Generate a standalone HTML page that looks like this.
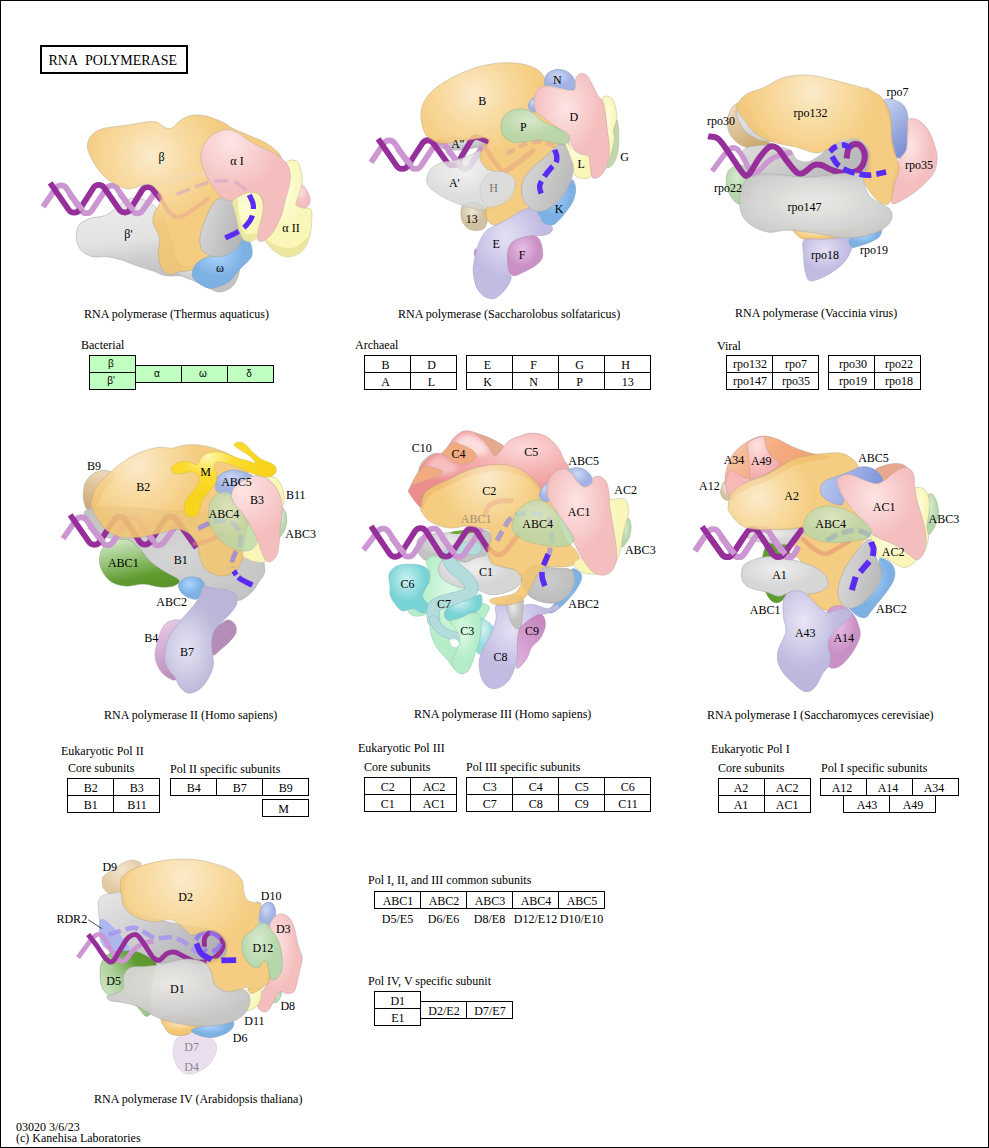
<!DOCTYPE html>
<html><head><meta charset="utf-8"><title>RNA polymerase</title>
<style>
html,body{margin:0;padding:0;background:#fff;}
svg{display:block;}
text{font-family:"Liberation Serif",serif;font-size:12px;fill:#000;}
.title{font-size:14px;}
.bt{font-size:12px;}
.bs{font-family:"Liberation Sans",sans-serif;font-size:10px;}
.l{font-size:12px;}
</style></head>
<body>
<svg width="989" height="1148" viewBox="0 0 989 1148">
<defs>
<radialGradient id="g_orange" cx="0.42" cy="0.32" r="0.6"><stop offset="0" stop-color="#fbe8c4"/><stop offset="0.75" stop-color="#f4c670"/><stop offset="1" stop-color="#f4c670"/></radialGradient>
<radialGradient id="g_pink" cx="0.42" cy="0.32" r="0.6"><stop offset="0" stop-color="#fee4e4"/><stop offset="0.75" stop-color="#f4bebe"/><stop offset="1" stop-color="#f4bebe"/></radialGradient>
<radialGradient id="g_yellow" cx="0.42" cy="0.32" r="0.6"><stop offset="0" stop-color="#fefdd8"/><stop offset="0.75" stop-color="#f9f6b8"/><stop offset="1" stop-color="#f9f6b8"/></radialGradient>
<radialGradient id="g_grey" cx="0.42" cy="0.32" r="0.6"><stop offset="0" stop-color="#ebebeb"/><stop offset="0.75" stop-color="#c2c2c2"/><stop offset="1" stop-color="#c2c2c2"/></radialGradient>
<radialGradient id="g_lgrey" cx="0.42" cy="0.32" r="0.6"><stop offset="0" stop-color="#efefef"/><stop offset="0.75" stop-color="#d6d6d6"/><stop offset="1" stop-color="#d6d6d6"/></radialGradient>
<radialGradient id="g_blue" cx="0.42" cy="0.32" r="0.6"><stop offset="0" stop-color="#aad4ff"/><stop offset="0.75" stop-color="#7db1e4"/><stop offset="1" stop-color="#7db1e4"/></radialGradient>
<radialGradient id="g_nblue" cx="0.42" cy="0.32" r="0.6"><stop offset="0" stop-color="#cbd7f4"/><stop offset="0.75" stop-color="#a2b3e3"/><stop offset="1" stop-color="#a2b3e3"/></radialGradient>
<radialGradient id="g_green" cx="0.42" cy="0.32" r="0.6"><stop offset="0" stop-color="#d6ead0"/><stop offset="0.75" stop-color="#b6d7ab"/><stop offset="1" stop-color="#b6d7ab"/></radialGradient>
<radialGradient id="g_dgreen" cx="0.42" cy="0.32" r="0.6"><stop offset="0" stop-color="#8fbf6a"/><stop offset="0.75" stop-color="#5f9a33"/><stop offset="1" stop-color="#5f9a33"/></radialGradient>
<radialGradient id="g_lav" cx="0.42" cy="0.32" r="0.6"><stop offset="0" stop-color="#e4e1f5"/><stop offset="0.75" stop-color="#c2bce2"/><stop offset="1" stop-color="#c2bce2"/></radialGradient>
<radialGradient id="g_mag" cx="0.42" cy="0.32" r="0.6"><stop offset="0" stop-color="#e8bee4"/><stop offset="0.75" stop-color="#ca90c6"/><stop offset="1" stop-color="#ca90c6"/></radialGradient>
<radialGradient id="g_tan" cx="0.42" cy="0.32" r="0.6"><stop offset="0" stop-color="#f0e8d6"/><stop offset="0.75" stop-color="#d0c2a2"/><stop offset="1" stop-color="#d0c2a2"/></radialGradient>
<radialGradient id="g_gold" cx="0.42" cy="0.32" r="0.6"><stop offset="0" stop-color="#ffe44d"/><stop offset="0.75" stop-color="#f7d21a"/><stop offset="1" stop-color="#f7d21a"/></radialGradient>
<radialGradient id="g_teal" cx="0.42" cy="0.32" r="0.6"><stop offset="0" stop-color="#caf1f1"/><stop offset="0.75" stop-color="#78d3d5"/><stop offset="1" stop-color="#78d3d5"/></radialGradient>
<radialGradient id="g_mint" cx="0.42" cy="0.32" r="0.6"><stop offset="0" stop-color="#dcfbe6"/><stop offset="0.75" stop-color="#b5edc8"/><stop offset="1" stop-color="#b5edc8"/></radialGradient>
<radialGradient id="g_salmon" cx="0.42" cy="0.32" r="0.6"><stop offset="0" stop-color="#f8c8a8"/><stop offset="0.75" stop-color="#f0a880"/><stop offset="1" stop-color="#f0a880"/></radialGradient>
<radialGradient id="g_peach" cx="0.42" cy="0.32" r="0.6"><stop offset="0" stop-color="#f8d0b0"/><stop offset="0.75" stop-color="#f0b088"/><stop offset="1" stop-color="#f0b088"/></radialGradient>
<radialGradient id="g_red" cx="0.42" cy="0.32" r="0.6"><stop offset="0" stop-color="#f8c0c0"/><stop offset="0.75" stop-color="#f0a0a0"/><stop offset="1" stop-color="#f0a0a0"/></radialGradient>

<linearGradient id="f2gc" x1="0" y1="0.3" x2="1" y2="0.7"><stop offset="0" stop-color="#d8d8d8"/><stop offset="1" stop-color="#b8b8b8"/></linearGradient>
<linearGradient id="f3tan" x1="0.2" y1="0" x2="0.7" y2="1"><stop offset="0" stop-color="#f0dcc0"/><stop offset="1" stop-color="#c8a468"/></linearGradient>
<linearGradient id="f3band" x1="0" y1="0" x2="1" y2="0.3"><stop offset="0" stop-color="#dedede"/><stop offset="0.6" stop-color="#c6c6c6"/><stop offset="1" stop-color="#b8b8b8"/></linearGradient>
<linearGradient id="f3b7" x1="0.2" y1="0" x2="0.6" y2="1"><stop offset="0" stop-color="#c2d0ee"/><stop offset="1" stop-color="#7b8ed2"/></linearGradient>
<radialGradient id="f3g147" cx="0.5" cy="0.45" r="0.6"><stop offset="0" stop-color="#e9e9e6"/><stop offset="1" stop-color="#c6c6c4"/></radialGradient>
<linearGradient id="f4tan" x1="0.5" y1="0" x2="0.2" y2="1"><stop offset="0" stop-color="#ecd8b8"/><stop offset="1" stop-color="#c9a878"/></linearGradient>
<radialGradient id="f4g" cx="0.5" cy="0.5" r="0.6"><stop offset="0" stop-color="#d6d6d6"/><stop offset="1" stop-color="#c3c3c3"/></radialGradient>
<linearGradient id="f4gr" x1="0.25" y1="0" x2="0.6" y2="1"><stop offset="0" stop-color="#d0e6c4"/><stop offset="0.45" stop-color="#8fbf70"/><stop offset="0.8" stop-color="#5e9a2e"/><stop offset="1" stop-color="#5a962a"/></linearGradient>
<linearGradient id="f4b4" x1="0.3" y1="0" x2="0.5" y2="1"><stop offset="0" stop-color="#e8cce8"/><stop offset="1" stop-color="#bb8cbc"/></linearGradient>
<radialGradient id="f4b7" cx="0.3" cy="0.58" r="0.6"><stop offset="0" stop-color="#e6e4f4"/><stop offset="0.7" stop-color="#bdb9da"/><stop offset="1" stop-color="#bab6d8"/></radialGradient>
<radialGradient id="f4m" cx="0.35" cy="0.2" r="0.5"><stop offset="0" stop-color="#fff6b0"/><stop offset="0.5" stop-color="#fbdc30"/><stop offset="1" stop-color="#f8d41c"/></radialGradient>
<radialGradient id="f5red" cx="0.72" cy="0.22" r="0.7"><stop offset="0" stop-color="#fcd8d8"/><stop offset="0.45" stop-color="#f4b0b0"/><stop offset="1" stop-color="#ec8c8c"/></radialGradient>
<filter id="blur25" x="-30%" y="-30%" width="160%" height="160%"><feGaussianBlur stdDeviation="2.5"/></filter>
<radialGradient id="f5gc" cx="0.5" cy="0.4" r="0.7"><stop offset="0" stop-color="#cccccc"/><stop offset="1" stop-color="#b8b8b8"/></radialGradient>
<linearGradient id="f5c9" x1="0.8" y1="0" x2="0.2" y2="1"><stop offset="0" stop-color="#c485c0"/><stop offset="1" stop-color="#deb0da"/></linearGradient>
<linearGradient id="f6sal" x1="0" y1="0" x2="1" y2="0.4"><stop offset="0" stop-color="#f8cdb0"/><stop offset="0.5" stop-color="#f4aa80"/><stop offset="1" stop-color="#f0a070"/></linearGradient>
<radialGradient id="f6p49" cx="0.3" cy="0.2" r="0.8"><stop offset="0" stop-color="#fde0e0"/><stop offset="1" stop-color="#f4a8a8"/></radialGradient>
<clipPath id="f6clip"><rect x="690" y="535.2" width="110.2" height="60"/></clipPath>
<radialGradient id="f6a43" cx="0.35" cy="0.3" r="0.65"><stop offset="0" stop-color="#e8e6f6"/><stop offset="0.7" stop-color="#c0bbe0"/><stop offset="1" stop-color="#bcb6dc"/></radialGradient>
<linearGradient id="f6gc" x1="0" y1="0.3" x2="1" y2="0.7"><stop offset="0" stop-color="#dcdcdc"/><stop offset="1" stop-color="#b6b6b6"/></linearGradient>
<linearGradient id="f6b5" x1="0" y1="0.3" x2="1" y2="0.5"><stop offset="0" stop-color="#b8c8f0"/><stop offset="1" stop-color="#7f94d8"/></linearGradient>
<radialGradient id="f7tan" cx="0.5" cy="0.3" r="0.7"><stop offset="0" stop-color="#f4e4cc"/><stop offset="1" stop-color="#e0c49c"/></radialGradient>
<linearGradient id="f7gb" x1="0" y1="0" x2="1" y2="0.6"><stop offset="0" stop-color="#e8e8e8"/><stop offset="0.5" stop-color="#cdcdd0"/><stop offset="1" stop-color="#b2b2b6"/></linearGradient>
<linearGradient id="f7gr" x1="0.1" y1="0.7" x2="0.9" y2="0.1"><stop offset="0" stop-color="#cfe4c4"/><stop offset="0.35" stop-color="#a9cf96"/><stop offset="0.75" stop-color="#5f9c30"/><stop offset="1" stop-color="#5a962a"/></linearGradient>
<radialGradient id="f7d1" cx="0.45" cy="0.35" r="0.6"><stop offset="0" stop-color="#eae8e4"/><stop offset="1" stop-color="#c4c4c4"/></radialGradient>

</defs>
<rect x="0" y="0" width="989" height="1148" fill="#fff"/>
<linearGradient id="f1bp" x1="0.3" y1="0" x2="0.5" y2="1"><stop offset="0" stop-color="#ececec"/><stop offset="0.55" stop-color="#e2e2e2"/><stop offset="0.8" stop-color="#cdcdcd"/><stop offset="1" stop-color="#c4c4c4"/></linearGradient>
<path d="M76.4,234.5C76.8,231.6 77.1,227.1 79.4,224.4C81.8,221.7 86.3,219.8 90.6,218.3C94.8,216.9 100.7,217.2 104.7,215.7C108.8,214.2 111.5,211.6 114.8,209.2C118.2,206.8 121.6,203.0 124.9,201.1C128.3,199.3 131.3,198.1 135.0,198.1C138.8,198.1 143.5,199.3 147.2,201.1C150.9,203.0 154.3,205.8 157.3,209.2C160.3,212.6 163.0,215.9 165.4,221.3C167.7,226.7 169.4,234.8 171.4,241.6C173.5,248.3 173.8,257.1 177.5,261.8C181.2,266.5 190.7,267.8 193.7,269.9C196.7,272.0 197.7,273.4 195.7,274.3C193.7,275.3 186.6,275.3 181.6,275.5C176.5,275.7 170.1,276.3 165.4,275.5C160.7,274.8 158.0,272.5 153.2,270.9C148.5,269.3 142.5,267.7 137.1,265.8C131.7,264.0 125.9,261.3 120.9,259.8C115.8,258.2 111.5,257.2 106.7,256.7C102.0,256.2 96.8,257.7 92.6,256.7C88.4,255.7 84.1,253.2 81.5,250.7C78.8,248.1 77.6,244.3 76.8,241.6C76.0,238.9 76.0,237.3 76.4,234.5Z" fill="url(#f1bp)" stroke="#aaa" stroke-width="0.6"/>
<path d="M170.5,267.2C172.9,265.8 185.3,266.4 192.2,265.5C199.2,264.6 205.4,263.5 212.3,262.0C219.1,260.6 228.7,255.9 233.2,256.8C237.7,257.7 238.5,263.8 239.3,267.2C240.0,270.7 238.8,274.4 237.5,277.7C236.2,281.0 234.3,284.9 231.4,287.3C228.5,289.7 223.6,291.7 220.1,292.0C216.6,292.3 214.7,290.8 210.5,289.0C206.3,287.2 200.4,283.7 194.8,281.2C189.3,278.7 181.5,276.5 177.4,274.2C173.4,271.9 168.0,268.7 170.5,267.2Z" fill="url(#g_grey)" stroke="#a8a8a8" stroke-width="0.6" />
<path d="M43.03,206.77 L55.76,188.26 A6.50,6.50 0 0 1 66.53,188.35 L81.09,210.29 A6.50,6.50 0 0 0 91.93,210.29 L106.37,188.50 A6.50,6.50 0 0 1 117.21,188.49 L131.81,210.51 A6.50,6.50 0 0 0 142.55,210.64 L156.28,191.00" fill="none" stroke="#cb96d1" stroke-width="5.8" stroke-linejoin="round"/><path d="M50.11,182.91 L68.78,209.82 A6.50,6.50 0 0 0 79.61,209.59 L93.32,187.99 A6.50,6.50 0 0 1 104.15,187.77 L119.35,209.70 A6.50,6.50 0 0 0 130.22,209.42 L142.15,190.14 A6.50,6.50 0 0 1 152.73,189.47 L161.33,200.10" fill="none" stroke="#962f9a" stroke-width="5.8" stroke-linejoin="round"/><path d="M69.32,193.82 L82.72,210.22" stroke="#cb96d1" stroke-width="5.8" fill="none"/><path d="M119.88,193.82 L133.28,210.22" stroke="#cb96d1" stroke-width="5.8" fill="none"/>
<radialGradient id="ug_orange_153_156" gradientUnits="userSpaceOnUse" cx="153" cy="156" r="70"><stop offset="0" stop-color="#fbe8c4"/><stop offset="0.5" stop-color="#f8d694"/><stop offset="1" stop-color="#f4c670"/></radialGradient><path d="M87.5,147.5C87.2,143.5 88.4,139.4 90.6,136.4C92.7,133.4 96.6,130.9 100.7,129.3C104.7,127.7 109.8,127.5 114.8,126.7C119.9,125.9 125.6,125.5 131.0,124.7C136.4,123.9 142.8,122.2 147.2,121.8C151.6,121.4 154.4,121.3 157.3,122.2C160.2,123.2 162.0,126.3 164.4,127.3C166.7,128.3 168.9,129.3 171.4,128.3C174.0,127.3 176.5,123.3 179.5,121.2C182.6,119.1 185.9,116.8 189.6,115.8C193.4,114.8 197.7,114.7 201.8,115.2C205.8,115.6 209.9,117.2 213.9,118.6C218.0,120.1 222.8,122.2 226.0,123.9C229.3,125.6 229.1,126.7 233.2,128.7C237.3,130.8 245.4,133.8 250.6,136.1C255.8,138.3 260.5,140.1 264.5,142.3C268.6,144.6 272.2,147.0 275.0,149.7C277.8,152.3 280.3,153.6 281.4,158.4C282.6,163.2 284.8,170.7 282.0,178.4C279.1,186.1 270.9,194.4 264.5,204.5C258.1,214.7 249.4,230.7 243.6,239.4C237.8,248.1 236.4,252.1 229.7,256.8C223.0,261.4 211.4,264.8 203.6,267.2C195.7,269.7 186.3,271.0 182.6,271.6C179.0,272.2 183.8,270.4 181.6,270.9C179.4,271.3 172.8,274.8 169.4,274.3C166.1,273.8 163.2,271.3 161.3,267.8C159.5,264.4 158.6,258.7 158.3,253.7C158.0,248.6 160.2,242.6 159.3,237.5C158.5,232.5 154.1,227.4 153.2,223.4C152.4,219.3 152.9,217.3 154.3,213.2C155.6,209.2 161.0,203.1 161.3,199.1C161.7,195.0 158.3,191.4 156.3,189.0C154.3,186.6 151.7,185.1 149.2,184.5C146.7,183.9 144.5,184.6 141.1,185.3C137.7,186.1 133.4,189.2 129.0,189.0C124.6,188.7 119.2,186.3 114.8,183.9C110.4,181.6 106.4,178.7 102.7,174.8C99.0,170.9 95.1,165.2 92.6,160.7C90.1,156.1 87.9,151.6 87.5,147.5Z" fill="url(#ug_orange_153_156)" stroke="#b8a680" stroke-width="0.6" opacity="0.87" />
<path d="M159.3,195.0C161.0,197.9 165.7,208.7 169.4,212.2C173.1,215.8 175.2,218.5 181.6,216.3C188.0,214.1 203.5,202.0 207.8,199.1" fill="none" stroke="#e8a890" stroke-width="4.5" stroke-linecap="round" stroke-linejoin="round" opacity="0.55"/>
<path d="M159.3,183.9C163.0,182.8 174.5,178.9 181.6,177.2C188.6,175.6 196.0,173.4 201.8,173.8C207.5,174.3 213.6,178.9 215.9,179.9" fill="none" stroke="#f3d9b0" stroke-width="5" stroke-linecap="round" stroke-linejoin="round" opacity="0.7"/>
<path d="M192.2,274.2C192.5,272.2 193.0,268.1 194.8,265.5C196.7,262.9 199.8,260.3 203.6,258.5C207.3,256.8 213.1,256.8 217.5,255.1C221.8,253.3 226.2,250.7 229.7,248.1C233.2,245.5 235.5,240.8 238.4,239.4C241.3,237.9 244.9,238.2 247.1,239.4C249.3,240.5 250.7,243.4 251.5,246.3C252.2,249.2 252.8,253.6 251.5,256.8C250.2,260.0 246.1,262.9 243.6,265.5C241.2,268.1 239.0,269.9 236.7,272.5C234.3,275.1 232.6,278.9 229.7,281.2C226.8,283.5 222.7,285.2 219.2,286.4C215.7,287.6 212.3,288.7 208.8,288.2C205.3,287.6 200.9,284.7 198.3,282.9C195.7,281.2 194.1,279.2 193.1,277.7C192.1,276.2 191.9,276.2 192.2,274.2Z" fill="url(#g_blue)" stroke="#7fa3c8" stroke-width="0.6" />
<linearGradient id="f1gc" x1="0" y1="0.2" x2="1" y2="0.6"><stop offset="0" stop-color="#dadada"/><stop offset="1" stop-color="#b4b4b4"/></linearGradient>
<path d="M217.5,199.3C220.1,197.6 223.6,197.3 226.2,197.6C228.8,197.9 231.4,198.4 233.2,201.0C234.9,203.7 235.5,208.6 236.7,213.2C237.8,217.9 239.3,224.6 240.1,228.9C241.0,233.3 242.5,236.2 241.9,239.4C241.3,242.6 239.3,245.5 236.7,248.1C234.0,250.7 229.7,253.6 226.2,255.1C222.7,256.5 219.2,257.1 215.7,256.8C212.3,256.5 207.9,255.3 205.3,253.3C202.7,251.3 200.8,248.1 200.1,244.6C199.3,241.1 200.1,236.5 200.9,232.4C201.8,228.3 203.7,224.3 205.3,220.2C206.9,216.1 208.5,211.5 210.5,208.0C212.6,204.5 214.9,201.0 217.5,199.3Z" fill="url(#f1gc)" stroke="#a4a4a4" stroke-width="0.6"/>
<path d="M297.6,183.6C299.7,181.9 302.6,184.8 304.6,187.1C306.6,189.4 309.1,194.7 309.8,197.6C310.6,200.5 310.1,202.6 309.0,204.5C307.8,206.4 305.0,208.6 302.9,208.9C300.7,209.2 297.6,208.2 295.9,206.3C294.1,204.4 292.1,201.3 292.4,197.6C292.7,193.8 295.6,185.4 297.6,183.6Z" fill="url(#g_pink)" stroke="#c9a8a8" stroke-width="0.6" />
<path d="M286.3,162.7C287.8,160.5 290.4,160.1 292.4,160.1C294.4,160.1 297.0,160.5 298.5,162.7C300.0,164.9 300.9,169.7 301.5,173.2C302.0,176.7 302.5,179.8 302.0,183.6C301.5,187.4 299.5,192.3 298.5,195.8C297.5,199.3 295.2,202.5 295.9,204.5C296.6,206.6 300.4,207.3 302.9,208.0C305.3,208.7 309.2,207.1 310.7,208.9C312.2,210.6 312.1,214.0 311.9,218.5C311.8,223.0 311.0,231.0 309.8,235.9C308.6,240.8 306.9,244.9 304.6,248.1C302.3,251.3 299.1,253.6 295.9,255.1C292.7,256.5 288.9,257.4 285.4,256.8C282.0,256.2 277.9,253.6 275.0,251.6C272.1,249.5 269.6,246.9 268.0,244.6C266.4,242.3 264.8,241.4 265.4,237.6C266.0,233.9 269.3,227.5 271.5,222.0C273.7,216.4 276.7,210.3 278.5,204.5C280.2,198.7 281.1,192.3 282.0,187.1C282.8,181.9 283.0,177.2 283.7,173.2C284.4,169.1 284.9,164.9 286.3,162.7Z" fill="url(#g_yellow)" stroke="#c4c39a" stroke-width="0.6" />
<path d="M266.6,239.4C267.8,239.4 271.8,243.1 275.0,244.6C278.1,246.1 281.7,247.8 285.4,248.1C289.2,248.4 293.9,248.1 297.6,246.3C301.4,244.6 306.9,237.3 308.1,237.6C309.2,237.9 306.6,245.2 304.6,248.1C302.6,251.0 299.1,253.6 295.9,255.1C292.7,256.5 288.9,257.4 285.4,256.8C282.0,256.2 277.9,253.6 275.0,251.6C272.1,249.5 269.4,246.6 268.0,244.6C266.6,242.6 265.5,239.4 266.6,239.4Z" fill="#e9e69c" opacity="0.9"/>
<radialGradient id="ug_pink_231_142" gradientUnits="userSpaceOnUse" cx="231" cy="142" r="50"><stop offset="0" stop-color="#fee4e4"/><stop offset="1" stop-color="#f4bebe"/></radialGradient><path d="M200.9,155.7C201.2,152.6 202.0,148.5 203.6,145.3C205.2,142.1 207.9,138.9 210.5,136.6C213.1,134.3 216.3,132.5 219.2,131.4C222.1,130.2 224.8,129.3 227.9,129.6C231.1,129.9 234.6,131.1 238.4,133.1C242.2,135.1 246.2,139.2 250.6,141.8C254.9,144.4 259.9,146.5 264.5,148.8C269.2,151.1 274.7,153.1 278.5,155.7C282.2,158.4 285.2,161.3 287.2,164.5C289.2,167.7 290.0,171.1 290.3,174.9C290.6,178.7 289.7,183.0 288.9,187.1C288.1,191.2 286.6,194.9 285.4,199.3C284.3,203.7 283.4,208.9 282.0,213.2C280.5,217.6 278.8,221.7 276.7,225.4C274.7,229.2 272.1,233.3 269.8,235.9C267.4,238.5 264.8,240.5 262.8,241.1C260.8,241.7 258.6,241.4 257.6,239.4C256.5,237.3 256.3,233.0 256.7,228.9C257.1,224.9 259.2,219.0 260.2,215.0C261.2,210.9 262.6,207.7 262.8,204.5C262.9,201.3 262.5,197.7 261.0,195.8C259.6,193.9 257.0,193.4 254.1,193.2C251.2,193.1 247.1,193.8 243.6,194.9C240.1,196.1 236.4,199.4 233.2,200.2C230.0,200.9 227.4,200.9 224.5,199.3C221.6,197.7 218.7,194.4 215.7,190.6C212.8,186.8 209.4,181.0 207.0,176.7C204.7,172.3 202.8,167.9 201.8,164.5C200.8,161.0 200.7,158.9 200.9,155.7Z" fill="url(#ug_pink_231_142)" stroke="#c9a8a8" stroke-width="0.6" />
<path d="M176.6,194.1C178.7,193.3 184.2,191.2 189.6,189.2C195.0,187.2 202.5,183.7 208.8,182.2C215.0,180.8 222.4,180.6 227.1,180.7C231.7,180.7 233.4,181.2 236.7,182.8C239.9,184.3 244.9,188.9 246.6,190.1" fill="none" stroke="#d8a0c8" stroke-width="3.6" stroke-linecap="butt" stroke-linejoin="round" stroke-dasharray="14,6" opacity="0.55"/>
<path d="M233.2,200.2C234.7,198.6 239.0,196.3 241.9,194.9C244.8,193.6 247.7,192.3 250.6,192.3C253.5,192.3 257.2,192.9 259.3,194.9C261.4,197.0 262.7,200.9 263.1,204.5C263.6,208.2 262.7,212.7 261.9,216.7C261.1,220.8 259.3,225.4 258.4,228.9C257.6,232.4 258.0,235.5 256.7,237.6C255.4,239.7 252.8,241.2 250.6,241.5C248.4,241.8 245.4,240.9 243.6,239.4C241.9,237.9 241.2,235.3 240.1,232.4C239.1,229.5 238.4,225.4 237.5,222.0C236.7,218.5 235.7,214.4 234.9,211.5C234.1,208.6 233.1,206.4 232.8,204.5C232.5,202.6 231.7,201.8 233.2,200.2Z" fill="url(#g_yellow)" stroke="#c4c39a" stroke-width="0.6" />
<path d="M233.2,200.7C234.0,199.7 236.7,196.6 237.5,198.4C238.4,200.2 237.7,207.0 238.4,211.5C239.1,216.0 240.7,221.7 241.9,225.4C243.0,229.2 243.0,232.7 245.4,234.1C247.7,235.6 253.9,233.6 255.8,234.1C257.7,234.7 257.6,236.4 256.7,237.6C255.8,238.9 252.8,241.2 250.6,241.5C248.4,241.8 245.4,240.9 243.6,239.4C241.9,237.9 241.2,235.3 240.1,232.4C239.1,229.5 238.4,225.4 237.5,222.0C236.7,218.5 235.7,214.4 234.9,211.5C234.1,208.6 233.1,206.3 232.8,204.5C232.5,202.7 232.4,201.7 233.2,200.7Z" fill="#e9e69c" opacity="0.9"/>
<path d="M249.2,194.9C249.9,196.5 252.7,200.9 253.2,204.5C253.7,208.2 253.3,213.1 252.0,216.7C250.7,220.4 247.9,223.7 245.4,226.3C242.8,228.9 240.0,230.5 236.7,232.4C233.3,234.3 227.2,237.0 225.3,238.0" fill="none" stroke="#5a2bf5" stroke-width="5.2" stroke-linecap="butt" stroke-linejoin="round" stroke-dasharray="15,6.5"/>
<text class="l" x="161.5" y="161" text-anchor="middle">β</text>
<text class="l" x="237" y="165" text-anchor="middle">α I</text>
<text class="l" x="291" y="232" text-anchor="middle">α II</text>
<text class="l" x="128.5" y="238" text-anchor="middle">β'</text>
<text class="l" x="220" y="271.5" text-anchor="middle">ω</text>
<path d="M437.8,139.8C439.7,138.5 445.2,138.1 449.9,137.8C454.7,137.5 460.7,138.4 466.1,138.2C471.5,138.0 478.2,136.5 482.3,136.8C486.3,137.1 489.7,138.7 490.4,140.2C491.1,141.7 489.0,144.6 486.3,145.9C483.6,147.2 478.6,147.2 474.2,147.9C469.8,148.6 464.8,149.7 460.0,149.9C455.3,150.2 449.4,150.2 445.9,149.5C442.4,148.9 440.2,147.5 438.8,145.9C437.5,144.3 435.9,141.2 437.8,139.8Z" fill="url(#g_grey)" stroke="#a8a8a8" stroke-width="0.6" />
<path d="M461.1,210.6C461.4,207.9 461.9,205.9 464.1,204.5C466.3,203.2 470.8,202.2 474.2,202.5C477.6,202.8 482.1,204.2 484.3,206.6C486.5,208.9 487.2,213.3 487.3,216.7C487.5,220.0 486.8,224.5 485.3,226.8C483.8,229.1 481.1,230.1 478.2,230.4C475.4,230.7 470.8,230.0 468.1,228.4C465.4,226.8 463.2,223.7 462.1,220.7C460.9,217.7 460.7,213.3 461.1,210.6Z" fill="url(#g_tan)" stroke="#b3a88e" stroke-width="0.6" />
<path d="M371.07,162.47 L383.84,143.28 A6.50,6.50 0 0 1 394.63,143.23 L410.10,166.08 A6.50,6.50 0 0 0 420.92,166.00 L434.49,145.32 A6.50,6.50 0 0 1 445.27,145.19 L459.62,166.01 A6.50,6.50 0 0 0 470.49,165.77 L482.29,146.90" fill="none" stroke="#cb96d1" stroke-width="5.8" stroke-linejoin="round"/><path d="M378.14,138.81 L396.86,166.11 A6.50,6.50 0 0 0 407.68,165.97 L422.41,143.21 A6.50,6.50 0 0 1 433.15,142.95 L447.28,162.64 A6.50,6.50 0 0 0 458.15,162.17 L471.08,140.36 A6.50,6.50 0 0 1 479.26,137.71 L488.76,141.85" fill="none" stroke="#962f9a" stroke-width="5.8" stroke-linejoin="round"/><path d="M397.68,148.97 L411.61,165.80" stroke="#cb96d1" stroke-width="5.8" fill="none"/><path d="M447.91,150.35 L461.31,166.10" stroke="#cb96d1" stroke-width="5.8" fill="none"/>
<path d="M426.7,179.3C427.0,176.4 428.2,171.9 430.7,169.1C433.3,166.3 437.6,164.0 441.8,162.5C446.1,161.0 451.3,161.3 456.0,160.0C460.7,158.8 466.1,156.5 470.2,155.0C474.2,153.5 477.6,150.1 480.3,150.9C483.0,151.8 483.6,156.5 486.3,160.0C489.0,163.6 493.1,169.7 496.4,172.2C499.8,174.7 503.6,173.7 506.6,175.2C509.5,176.7 513.1,178.8 514.2,181.3C515.4,183.8 514.9,187.2 513.6,190.4C512.4,193.6 509.8,197.6 506.6,200.5C503.4,203.4 498.5,206.0 494.4,207.6C490.4,209.2 487.0,210.4 482.3,210.2C477.6,210.0 471.5,208.2 466.1,206.6C460.7,204.9 455.0,202.8 449.9,200.5C444.9,198.1 439.3,194.8 435.8,192.4C432.2,190.0 430.2,188.5 428.7,186.3C427.2,184.1 426.3,182.1 426.7,179.3Z" fill="url(#g_lgrey)" stroke="#ababab" stroke-width="0.6" opacity="0.8" />
<radialGradient id="ug_orange_475_94" gradientUnits="userSpaceOnUse" cx="475" cy="94" r="62"><stop offset="0" stop-color="#fbe8c4"/><stop offset="0.5" stop-color="#f8d694"/><stop offset="1" stop-color="#f4c670"/></radialGradient><path d="M420.9,116.6C420.6,111.4 421.6,107.0 423.7,102.5C425.8,98.0 429.1,93.7 433.6,89.7C438.1,85.7 444.0,81.9 450.6,78.4C457.2,74.9 465.7,71.0 473.3,68.5C480.8,66.0 488.4,64.2 495.9,63.4C503.5,62.5 511.9,62.5 518.6,63.4C525.2,64.2 531.3,66.2 535.5,68.5C539.8,70.8 542.0,73.2 544.0,77.0C546.0,80.8 545.1,84.5 547.4,91.1C549.8,97.8 554.5,107.7 558.2,116.6C561.9,125.6 567.6,136.4 569.5,144.9C571.4,153.4 571.4,160.5 569.5,167.6C567.6,174.7 562.9,181.7 558.2,187.4C553.5,193.1 545.9,198.3 541.2,201.6C536.5,204.9 533.2,205.1 529.9,207.2C526.6,209.3 525.2,211.7 521.4,214.3C517.6,216.9 511.9,221.1 507.2,222.8C502.5,224.5 496.6,225.7 493.1,224.8C489.5,223.8 486.9,220.1 486.0,217.1C485.0,214.2 484.8,210.3 487.4,207.2C490.0,204.2 497.1,202.0 501.6,198.7C506.0,195.4 512.2,190.7 514.3,187.4C516.4,184.1 516.0,181.3 514.3,178.9C512.7,176.6 508.9,174.9 504.4,173.3C499.9,171.6 491.4,171.4 487.4,169.0C483.4,166.6 481.3,162.2 480.3,159.1C479.4,156.0 480.3,153.4 481.7,150.6C483.2,147.8 488.4,144.2 488.8,142.1C489.3,140.0 487.2,138.3 484.6,137.9C482.0,137.4 479.9,138.3 473.3,139.3C466.6,140.2 451.5,143.3 444.9,143.5C438.3,143.8 436.9,142.3 433.6,140.7C430.3,139.0 427.2,137.6 425.1,133.6C423.0,129.6 421.1,121.8 420.9,116.6Z" fill="url(#ug_orange_475_94)" stroke="#b8a680" stroke-width="0.6" opacity="0.87" />
<path d="M484.3,145.9C486.3,148.9 492.7,160.0 496.4,164.1C500.2,168.1 500.5,172.3 506.6,170.2C512.6,168.0 528.5,154.1 532.8,150.9" fill="none" stroke="#e8a080" stroke-width="5" stroke-linecap="round" stroke-linejoin="round" opacity="0.5"/>
<path d="M506.6,154.0C509.6,152.4 519.0,146.3 524.8,144.3C530.5,142.2 536.0,141.6 540.9,141.8C545.8,142.1 551.9,145.2 554.1,145.9" fill="none" stroke="#e0a090" stroke-width="4.5" stroke-linecap="butt" stroke-linejoin="round" stroke-dasharray="9,5" opacity="0.5"/>
<path d="M480.3,186.3C481.1,182.5 483.3,177.7 486.3,175.2C489.4,172.7 494.4,171.2 498.5,171.2C502.5,171.2 507.8,173.0 510.6,175.2C513.4,177.4 514.9,180.8 515.1,184.3C515.2,187.9 514.0,193.1 511.6,196.4C509.2,199.8 504.4,202.8 500.5,204.5C496.6,206.3 491.6,208.0 488.4,207.0C485.2,206.0 482.6,201.9 481.3,198.5C479.9,195.0 479.4,190.2 480.3,186.3Z" fill="#dcdcda" stroke="#b8b8b8" stroke-width="0.4" opacity="0.9"/>
<path d="M537.9,211.3C540.0,209.5 548.3,208.7 552.5,206.1C556.7,203.5 559.8,199.8 562.8,195.8C565.8,191.8 568.8,184.6 570.6,182.0C572.3,179.5 572.3,179.2 573.1,180.3C574.0,181.5 575.7,185.5 575.7,188.9C575.7,192.3 574.7,197.2 573.1,200.9C571.6,204.7 568.5,208.1 566.3,211.3C564.0,214.4 561.7,217.6 559.4,219.8C557.1,222.1 555.1,224.4 552.5,225.0C549.9,225.6 546.1,224.7 543.9,223.3C541.8,221.9 540.6,218.4 539.6,216.4C538.6,214.4 535.7,213.0 537.9,211.3Z" fill="url(#g_blue)" stroke="#7fa3c8" stroke-width="0.6" />
<path d="M473.8,252.5C473.9,250.9 475.5,247.8 476.1,248.3C476.7,248.8 477.6,253.7 477.5,255.4C477.4,257.0 476.1,258.7 475.5,258.2C474.9,257.7 473.7,254.2 473.8,252.5Z" fill="#cf8fc9"/>
<path d="M473.2,270.9C472.9,266.1 473.8,262.5 474.8,258.0C475.7,253.4 477.1,247.7 478.8,243.4C480.6,239.1 482.9,234.9 485.3,232.1C487.7,229.2 489.6,228.6 493.4,226.4C497.2,224.3 503.4,221.7 508.0,219.1C512.5,216.6 517.1,212.9 520.9,211.0C524.7,209.2 528.1,208.3 530.6,208.1C533.2,208.0 534.9,208.7 536.3,210.2C537.7,211.8 537.8,215.3 539.0,217.5C540.2,219.7 541.5,222.2 543.6,223.7C545.7,225.1 550.4,225.1 551.7,226.4C552.9,227.8 552.7,230.3 551.3,231.7C550.0,233.2 547.0,234.7 543.6,235.3C540.1,236.0 534.7,235.1 530.6,235.6C526.6,236.2 522.5,237.2 519.3,238.5C516.1,239.8 513.1,241.2 511.2,243.4C509.3,245.6 508.6,248.3 508.0,251.5C507.4,254.7 507.5,259.6 507.6,262.8C507.8,266.1 508.2,268.5 508.8,270.9C509.4,273.3 511.3,275.0 511.2,277.4C511.1,279.8 509.6,282.8 508.0,285.5C506.3,288.2 503.9,291.3 501.5,293.6C499.1,295.8 496.4,298.3 493.4,298.7C490.4,299.1 486.5,297.9 483.7,296.0C480.9,294.0 478.2,291.3 476.4,287.1C474.7,282.9 473.4,275.8 473.2,270.9Z" fill="url(#g_lav)" stroke="#a9a4c4" stroke-width="0.6" />
<path d="M508.0,251.5C508.6,248.3 509.3,245.6 511.2,243.4C513.1,241.2 516.1,239.8 519.3,238.5C522.5,237.3 527.6,236.4 530.6,236.1C533.6,235.8 535.3,235.7 537.1,236.9C538.8,238.1 540.2,240.4 541.1,243.4C542.1,246.4 542.9,251.8 542.8,254.7C542.6,257.7 542.1,259.0 540.3,261.2C538.6,263.4 535.2,265.8 532.2,267.7C529.3,269.6 525.5,271.2 522.5,272.5C519.6,273.9 516.6,275.8 514.4,275.8C512.3,275.8 510.7,274.7 509.6,272.5C508.4,270.4 507.9,266.3 507.6,262.8C507.4,259.3 507.4,254.7 508.0,251.5Z" fill="url(#g_mag)" stroke="#b08fb0" stroke-width="0.6" />
<path d="M521.6,192.3C521.3,188.6 521.6,184.3 523.3,180.3C525.0,176.3 528.4,172.0 531.9,168.3C535.3,164.6 540.5,161.1 543.9,158.0C547.3,154.8 549.9,151.7 552.5,149.4C555.1,147.1 557.1,144.8 559.4,144.2C561.7,143.6 564.2,143.9 566.3,145.9C568.3,147.9 570.3,152.2 571.4,156.3C572.6,160.3 573.4,165.4 573.1,170.0C572.8,174.6 571.4,179.5 569.7,183.8C568.0,188.1 565.7,192.1 562.8,195.8C560.0,199.5 555.9,203.5 552.5,206.1C549.1,208.7 545.6,210.7 542.2,211.3C538.8,211.8 534.7,211.0 531.9,209.5C529.0,208.1 526.7,205.5 525.0,202.7C523.3,199.8 521.9,196.1 521.6,192.3Z" fill="url(#f2gc)" stroke="#a4a4a4" stroke-width="0.6"/>
<path d="M544.8,79.8C545.2,77.9 545.5,75.5 547.3,73.8C549.2,72.0 552.8,69.9 555.9,69.5C559.1,69.0 563.4,69.9 566.3,71.2C569.1,72.5 571.6,74.8 573.1,77.2C574.7,79.6 575.7,83.6 575.7,85.8C575.7,87.9 575.3,89.6 573.1,90.1C571.0,90.5 566.5,89.1 562.8,88.4C559.1,87.6 553.8,86.4 550.8,85.8C547.8,85.2 545.8,85.9 544.8,84.9C543.8,83.9 544.3,81.6 544.8,79.8Z" fill="url(#g_nblue)" stroke="#8c9cc4" stroke-width="0.6" />
<path d="M528.4,106.4C528.3,104.7 529.2,101.8 530.2,100.4C531.2,99.0 533.2,97.1 534.5,97.8C535.7,98.5 537.6,102.4 537.9,104.7C538.2,107.0 537.3,110.6 536.2,111.6C535.0,112.6 532.3,111.6 531.0,110.7C529.7,109.8 528.6,108.1 528.4,106.4Z" fill="url(#g_nblue)" stroke="#8c9cc4" stroke-width="0.6" />
<path d="M602.3,98.7C602.8,96.1 605.8,96.0 607.5,96.1C609.2,96.2 611.2,97.2 612.7,99.5C614.1,101.8 615.4,106.4 616.1,109.8C616.8,113.3 617.0,116.4 617.0,120.2C617.0,123.9 616.4,127.9 616.1,132.2C615.8,136.5 615.7,141.6 615.2,145.9C614.8,150.2 614.8,154.5 613.5,158.0C612.2,161.4 609.1,165.7 607.5,166.6C605.9,167.4 604.1,166.6 604.1,163.1C604.1,159.7 607.1,151.7 607.5,145.9C607.9,140.2 607.1,134.5 606.6,128.8C606.2,123.0 605.6,116.6 604.9,111.6C604.2,106.6 601.9,101.3 602.3,98.7Z" fill="url(#g_yellow)" stroke="#c4c39a" stroke-width="0.6" />
<path d="M617.0,120.2C617.5,120.9 618.3,124.7 618.6,128.6C618.9,132.4 619.0,138.7 618.8,143.2C618.5,147.8 618.1,152.1 617.0,155.8C615.9,159.4 614.0,163.2 612.3,165.2C610.6,167.1 607.6,168.4 607.1,167.5C606.5,166.6 608.3,163.0 609.2,160.0C610.0,157.0 611.4,153.2 612.3,149.5C613.2,145.8 614.4,141.1 614.6,138.0C614.8,134.9 613.2,132.9 613.3,130.7C613.5,128.4 614.8,126.1 615.4,124.4C616.0,122.6 616.5,119.5 617.0,120.2Z" fill="#c3d6ac" stroke="#a8b898" stroke-width="0.5"/>
<path d="M562.8,137.7C563.5,137.1 570.3,146.7 573.1,149.4C576.0,152.0 577.3,152.9 580.0,153.7C582.7,154.5 587.7,152.0 589.5,154.2C591.2,156.3 590.4,162.9 590.7,166.6C590.9,170.2 592.4,174.0 591.2,176.0C590.0,178.0 586.2,178.7 583.4,178.6C580.7,178.5 576.6,177.5 574.8,175.2C573.1,172.9 574.1,168.6 573.1,164.8C572.1,161.1 570.6,157.3 568.8,152.8C567.1,148.3 562.1,138.3 562.8,137.7Z" fill="url(#g_yellow)" stroke="#c4c39a" stroke-width="0.6" />
<path d="M534.5,97.8C534.7,94.7 535.5,92.8 537.0,90.9C538.6,89.1 540.8,87.2 543.9,86.6C547.1,86.1 551.9,86.9 555.9,87.5C560.0,88.1 564.8,89.8 568.0,90.1C571.1,90.4 573.6,91.1 574.8,89.2C576.1,87.4 574.8,81.5 575.7,78.9C576.6,76.3 578.1,74.3 580.0,73.8C581.9,73.2 584.9,73.8 586.9,75.5C588.9,77.2 590.3,80.9 592.0,84.1C593.8,87.2 595.3,91.2 597.2,94.4C599.1,97.5 601.8,99.2 603.2,103.0C604.6,106.7 605.1,111.9 605.8,116.7C606.5,121.6 606.9,127.3 607.5,132.2C608.1,137.1 609.1,141.4 609.2,145.9C609.4,150.5 609.2,155.4 608.4,159.7C607.5,164.0 605.9,168.7 604.1,171.7C602.2,174.7 599.2,176.9 597.2,177.7C595.2,178.6 593.2,178.7 592.0,176.9C590.9,175.0 590.9,170.0 590.3,166.6C589.7,163.1 590.3,158.4 588.6,156.3C586.9,154.1 582.6,155.1 580.0,153.7C577.4,152.2 575.1,150.4 573.1,147.7C571.1,144.9 570.3,140.5 568.0,137.3C565.7,134.2 562.5,131.3 559.4,128.8C556.2,126.2 552.2,124.2 549.1,121.9C545.9,119.6 542.8,117.0 540.5,115.0C538.2,113.0 536.3,112.7 535.3,109.8C534.3,107.0 534.2,101.0 534.5,97.8Z" fill="url(#g_pink)" stroke="#c9a8a8" stroke-width="0.6" />
<path d="M500.9,128.8C500.7,125.6 500.9,121.4 502.7,118.4C504.4,115.4 507.8,112.3 511.3,110.7C514.7,109.1 519.6,108.6 523.3,109.0C527.0,109.4 530.4,111.3 533.6,113.3C536.7,115.3 539.0,118.9 542.2,121.0C545.3,123.2 549.1,124.6 552.5,126.2C555.9,127.7 560.1,128.9 562.8,130.5C565.5,132.0 567.9,133.8 568.8,135.6C569.7,137.5 569.3,140.2 568.3,141.6C567.3,143.1 565.5,144.1 562.8,144.2C560.2,144.4 556.5,143.2 552.5,142.5C548.5,141.8 543.0,140.1 538.8,139.9C534.5,139.8 530.7,141.2 526.7,141.6C522.7,142.1 518.4,143.2 514.7,142.5C511.0,141.8 506.7,139.6 504.4,137.3C502.1,135.1 501.2,131.9 500.9,128.8Z" fill="url(#g_green)" stroke="#9bb592" stroke-width="0.6" opacity="0.93" />
<path d="M554.6,149.7C554.9,150.8 556.6,154.0 556.8,156.3C557.0,158.5 556.9,161.1 555.9,163.1C554.9,165.1 552.9,165.7 550.8,168.3C548.6,170.9 544.9,175.4 543.0,178.6C541.2,181.7 539.6,183.9 539.6,187.2C539.6,190.5 542.5,196.5 543.0,198.4" fill="none" stroke="#5a2bf5" stroke-width="5.4" stroke-linecap="butt" stroke-linejoin="round" stroke-dasharray="13,5.5"/>
<text class="l" x="482.3" y="105.3" text-anchor="middle">B</text>
<text class="l" x="557.3" y="83.5" text-anchor="middle">N</text>
<text class="l" x="573.8" y="120.5" text-anchor="middle">D</text>
<text class="l" x="523.4" y="131.3" text-anchor="middle">P</text>
<text class="l" x="624.7" y="161.3" text-anchor="middle">G</text>
<text class="l" x="581.2" y="168" text-anchor="middle">L</text>
<text class="l" x="457.7" y="148" text-anchor="middle">A''</text>
<text class="l" x="454.3" y="187.3" text-anchor="middle">A'</text>
<text class="l" x="471.8" y="223.2" text-anchor="middle">13</text>
<text class="l" x="559" y="212.8" text-anchor="middle">K</text>
<text class="l" x="496.2" y="247.7" text-anchor="middle">E</text>
<text class="l" x="522.2" y="259" text-anchor="middle">F</text>
<text class="l" x="493.6" y="191.6" text-anchor="middle" style="fill:#777">H</text>
<path d="M727.3,122.6C727.3,118.5 728.6,113.6 730.3,110.4C732.0,107.2 735.2,103.4 737.4,103.4C739.6,103.4 741.8,106.6 743.5,110.4C745.2,114.3 745.3,121.9 747.5,126.6C749.7,131.3 752.9,136.1 756.6,138.8C760.3,141.5 767.9,141.0 769.8,142.8C771.6,144.6 770.3,148.2 767.7,149.3C765.2,150.4 759.2,150.0 754.6,149.3C750.1,148.5 744.5,147.2 740.4,144.8C736.4,142.4 732.5,138.4 730.3,134.7C728.1,131.0 727.3,126.6 727.3,122.6Z" fill="url(#f3tan)" stroke="#b8a88c" stroke-width="0.6"/>
<path d="M736.0,111.5C736.2,108.3 738.5,103.5 740.4,103.4C742.4,103.2 745.2,107.2 747.5,110.4C749.9,113.6 751.4,118.5 754.6,122.6C757.8,126.6 763.7,131.7 766.7,134.7C769.8,137.7 773.8,139.9 772.8,140.8C771.8,141.6 765.0,141.1 760.7,139.8C756.3,138.4 750.1,135.6 746.5,132.7C743.0,129.8 741.2,126.1 739.4,122.6C737.7,119.0 735.8,114.7 736.0,111.5Z" fill="url(#g_lgrey)" stroke="#ababab" stroke-width="0.6" />
<path d="M743.5,149.9C746.0,146.6 755.1,145.8 760.7,145.2C766.2,144.7 771.8,145.6 776.8,146.4C781.9,147.3 787.8,148.4 791.0,150.5C794.2,152.6 793.4,157.1 796.1,159.0C798.8,160.9 803.6,162.3 807.2,162.0C810.7,161.7 813.6,159.3 817.3,157.0C821.0,154.6 825.4,150.4 829.4,147.9C833.5,145.3 836.8,143.1 841.6,141.8C846.3,140.4 853.2,138.3 857.7,139.8C862.3,141.3 866.8,145.7 868.9,150.9C870.9,156.1 872.4,166.2 869.9,171.1C867.3,176.0 861.8,179.0 853.7,180.2C845.6,181.4 832.8,178.9 821.3,178.2C809.9,177.5 795.7,176.7 784.9,176.2C774.1,175.7 763.2,177.0 756.6,175.2C750.1,173.3 747.7,169.3 745.5,165.0C743.3,160.8 741.0,153.2 743.5,149.9Z" fill="url(#f3band)" stroke="#aaa" stroke-width="0.5"/>
<path d="M726.3,183.2C726.0,179.2 726.3,174.1 728.3,171.1C730.3,168.1 735.1,165.4 738.4,165.0C741.8,164.7 746.3,166.1 748.5,169.1C750.7,172.1 751.7,178.2 751.6,183.2C751.4,188.3 749.7,196.0 747.5,199.4C745.3,202.9 741.3,204.5 738.4,203.9C735.6,203.2 732.4,198.8 730.3,195.4C728.3,191.9 726.6,187.3 726.3,183.2Z" fill="url(#g_green)" stroke="#9bb592" stroke-width="0.6" />
<path d="M884.1,100.0C885.4,98.4 890.8,99.0 894.1,100.0C897.5,101.0 901.8,103.0 904.1,106.0C906.5,109.0 907.6,113.4 908.1,118.1C908.6,122.7 907.5,128.7 907.1,134.1C906.8,139.4 907.3,146.1 906.1,150.1C905.0,154.1 902.1,157.4 900.1,158.1C898.1,158.8 895.6,157.1 894.1,154.1C892.6,151.1 891.8,145.4 891.1,140.1C890.4,134.7 890.9,127.1 890.1,122.1C889.3,117.1 887.1,113.7 886.1,110.0C885.1,106.4 882.8,101.7 884.1,100.0Z" fill="url(#f3b7)" stroke="#8c9cc4" stroke-width="0.6"/>
<path d="M908.1,120.1C909.8,117.7 914.8,118.4 918.1,120.1C921.5,121.7 925.5,126.1 928.2,130.1C930.8,134.1 932.7,139.4 934.2,144.1C935.7,148.8 937.2,153.4 937.2,158.1C937.2,162.8 936.3,167.8 934.2,172.1C932.0,176.5 927.8,180.5 924.1,184.1C920.5,187.8 916.1,191.3 912.1,194.1C908.1,197.0 903.5,199.7 900.1,201.2C896.8,202.7 893.6,205.0 892.1,203.2C890.6,201.3 890.8,194.3 891.1,190.1C891.4,186.0 892.9,182.5 894.1,178.1C895.3,173.8 897.1,167.5 898.1,164.1C899.1,160.8 898.8,160.4 900.1,158.1C901.5,155.8 904.8,154.1 906.1,150.1C907.5,146.1 907.8,139.1 908.1,134.1C908.5,129.1 906.5,122.4 908.1,120.1Z" fill="url(#g_pink)" stroke="#c9a8a8" stroke-width="0.6" />
<path d="M712.1,171.1C714.2,168.4 721.2,158.7 724.3,154.9C727.3,151.2 728.2,149.5 730.3,148.5C732.4,147.5 734.6,147.3 736.8,148.9C739.0,150.5 741.0,153.9 743.5,158.0C745.9,162.0 749.2,170.8 751.6,173.1C753.9,175.5 754.8,174.1 757.6,172.1C760.5,170.1 764.9,163.9 768.8,161.0C772.6,158.1 777.0,155.9 780.9,154.5C784.8,153.1 790.2,152.8 792.0,152.5" fill="none" stroke="#cb96d1" stroke-width="5.4" stroke-linecap="butt" stroke-linejoin="round"/>
<path d="M708.1,136.3C709.8,136.7 714.5,135.7 718.2,138.8C721.9,141.9 726.3,149.3 730.3,154.9C734.4,160.6 739.4,169.4 742.5,172.7C745.5,176.0 745.8,177.0 748.5,174.8C751.2,172.5 755.3,163.6 758.6,159.0C762.0,154.4 765.7,149.1 768.8,147.2C771.9,145.4 774.2,145.8 777.2,148.1C780.3,150.4 783.7,156.9 787.0,161.0C790.3,165.1 794.3,170.8 797.1,172.7C799.8,174.7 800.8,173.9 803.5,172.7C806.2,171.5 810.3,166.7 813.2,165.4C816.2,164.2 818.0,164.2 821.3,165.0C824.7,165.9 829.1,169.4 833.5,170.7C837.8,172.1 843.2,173.5 847.6,173.1C852.0,172.8 856.9,171.4 859.8,168.7C862.6,166.0 864.5,160.5 864.8,157.0C865.1,153.4 863.4,149.4 861.8,147.2C860.2,145.1 857.5,143.8 855.3,144.0C853.1,144.2 850.1,146.0 848.6,148.5C847.2,150.9 846.9,156.9 846.6,158.6" fill="none" stroke="#962f9a" stroke-width="6.0" stroke-linecap="butt" stroke-linejoin="round"/>
<radialGradient id="ug_orange_812_92" gradientUnits="userSpaceOnUse" cx="812" cy="92" r="65"><stop offset="0" stop-color="#fbe8c4"/><stop offset="0.5" stop-color="#f8d694"/><stop offset="1" stop-color="#f4c670"/></radialGradient><path d="M736.4,105.4C737.9,102.7 741.8,97.3 746.5,94.3C751.2,91.2 759.0,89.8 764.7,87.2C770.4,84.6 775.5,80.5 780.9,78.5C786.3,76.5 791.7,75.7 797.1,75.3C802.5,74.8 807.9,75.0 813.2,75.7C818.6,76.3 823.4,77.7 829.4,79.1C835.5,80.5 843.2,82.5 849.6,84.2C856.0,85.8 865.1,88.6 867.8,89.2C870.6,89.9 864.0,86.9 866.1,88.0C868.1,89.2 876.4,92.7 880.1,96.0C883.8,99.4 886.3,103.7 888.1,108.0C889.9,112.4 890.4,116.7 891.1,122.1C891.8,127.4 891.3,134.4 892.1,140.1C892.9,145.8 894.9,151.1 896.1,156.1C897.3,161.1 899.5,165.4 899.1,170.1C898.8,174.8 895.3,179.8 894.1,184.1C892.9,188.5 893.1,192.8 892.1,196.2C891.1,199.5 890.1,203.1 888.1,204.2C886.1,205.2 883.1,204.6 880.1,202.6C877.1,200.6 872.8,195.7 870.1,192.1C867.4,188.6 865.1,184.0 864.1,181.1C863.1,178.3 863.6,177.8 864.2,175.2C864.8,172.5 867.1,169.1 867.8,165.0C868.6,161.0 869.9,154.9 868.9,150.9C867.8,146.8 865.0,142.8 861.8,140.8C858.6,138.8 853.4,138.6 849.6,138.8C845.9,138.9 842.9,140.1 839.5,141.8C836.2,143.5 833.1,147.0 829.4,148.9C825.7,150.7 820.7,152.5 817.3,152.9C813.9,153.3 812.6,152.2 809.2,151.3C805.8,150.4 801.1,148.3 797.1,147.2C793.0,146.2 789.7,145.9 784.9,144.8C780.2,143.7 773.8,142.8 768.8,140.8C763.7,138.8 758.6,136.1 754.6,132.7C750.6,129.3 747.4,124.3 744.5,120.6C741.6,116.8 738.8,113.0 737.4,110.4C736.1,107.9 734.9,108.1 736.4,105.4Z" fill="url(#ug_orange_812_92)" stroke="#b8a680" stroke-width="0.6" opacity="0.87" />
<path d="M791.9,227.0C793.3,226.6 797.6,229.2 803.3,229.9C808.9,230.6 818.4,231.3 825.9,231.3C833.5,231.3 844.5,229.2 848.6,229.9C852.6,230.6 851.4,233.7 850.0,235.5C848.6,237.3 844.5,239.6 840.1,240.6C835.6,241.7 829.2,242.0 823.1,241.8C816.9,241.5 808.0,240.4 803.3,238.9C798.5,237.4 796.6,234.7 794.8,232.7C792.9,230.7 790.5,227.5 791.9,227.0Z" fill="url(#g_orange)" stroke="#b8a680" stroke-width="0.6" />
<path d="M804.0,240.2C806.7,237.7 814.7,239.5 820.0,239.2C825.4,238.9 830.4,238.8 836.0,238.2C841.6,237.6 851.2,233.8 853.7,235.8C856.2,237.8 852.7,245.8 851.1,250.2C849.5,254.6 847.2,258.6 844.1,262.2C840.9,265.9 836.4,269.4 832.0,272.2C827.7,275.1 821.9,277.9 818.0,279.3C814.2,280.6 811.2,281.8 809.0,280.3C806.8,278.8 805.9,274.6 805.0,270.2C804.1,265.9 803.8,259.2 803.6,254.2C803.4,249.2 801.3,242.7 804.0,240.2Z" fill="url(#g_lav)" stroke="#a9a4c4" stroke-width="0.6" />
<path d="M850.1,239.2C852.5,237.2 861.0,236.9 866.1,235.2C871.2,233.5 878.2,229.0 880.5,229.2C882.8,229.4 881.4,234.0 879.7,236.2C878.0,238.4 873.7,240.5 870.1,242.2C866.5,243.9 861.1,245.4 858.1,246.2C855.0,247.0 853.0,248.4 851.7,247.2C850.3,246.0 847.7,241.2 850.1,239.2Z" fill="url(#g_blue)" stroke="#7fa3c8" stroke-width="0.6" />
<path d="M739.4,201.4C739.2,197.0 739.5,193.2 741.1,189.3C742.6,185.4 744.6,180.8 748.5,178.2C752.5,175.6 758.6,174.0 764.7,173.5C770.8,173.0 778.2,174.6 784.9,175.2C791.7,175.8 798.4,177.1 805.2,177.2C811.9,177.2 818.6,176.2 825.4,175.6C832.1,174.9 839.9,173.4 845.6,173.1C851.3,172.9 856.7,172.3 859.8,173.9C862.9,175.6 862.7,179.7 864.2,183.2C865.7,186.8 866.2,192.0 868.9,195.4C871.5,198.7 876.4,201.1 880.0,203.5C883.5,205.8 888.2,206.8 890.1,209.5C892.0,212.2 892.9,216.3 891.5,219.6C890.2,223.0 886.3,227.1 882.0,229.8C877.7,232.5 871.9,234.4 865.8,235.8C859.8,237.2 853.0,238.5 845.6,238.3C838.2,238.0 828.7,235.4 821.3,234.2C813.9,233.0 807.2,231.8 801.1,231.2C795.0,230.5 790.3,230.0 784.9,230.2C779.5,230.3 774.1,232.9 768.8,232.2C763.4,231.5 757.0,228.8 752.6,226.1C748.2,223.4 744.7,220.1 742.5,216.0C740.3,211.9 739.7,205.9 739.4,201.4Z" fill="url(#f3g147)" stroke="#a8a8a8" stroke-width="0.6" opacity="0.93"/>
<path d="M830.0,151.7C830.9,150.9 832.7,148.2 835.0,147.1C837.4,146.0 840.9,144.6 844.1,145.1C847.2,145.6 852.4,149.3 854.1,150.1" fill="none" stroke="#5a2bf5" stroke-width="5.6" stroke-linecap="butt" stroke-linejoin="round" stroke-dasharray="9,5"/>
<path d="M832.0,156.5C832.9,157.8 834.7,161.8 837.0,164.1C839.4,166.4 842.6,168.5 846.1,170.1C849.6,171.7 854.1,172.9 858.1,173.7C862.1,174.6 865.4,175.4 870.1,175.1C874.8,174.9 883.4,172.6 886.1,172.1" fill="none" stroke="#5a2bf5" stroke-width="5.6" stroke-linecap="butt" stroke-linejoin="round" stroke-dasharray="12,5"/>
<text class="l" x="810.5" y="117" text-anchor="middle">rpo132</text>
<text class="l" x="897.5" y="96" text-anchor="middle">rpo7</text>
<text class="l" x="721" y="124.5" text-anchor="middle">rpo30</text>
<text class="l" x="919" y="168.5" text-anchor="middle">rpo35</text>
<text class="l" x="728" y="191.5" text-anchor="middle">rpo22</text>
<text class="l" x="804.5" y="210.5" text-anchor="middle">rpo147</text>
<text class="l" x="825" y="259" text-anchor="middle">rpo18</text>
<text class="l" x="874" y="254" text-anchor="middle">rpo19</text>
<path d="M83.3,494.7C83.5,491.3 83.6,486.1 85.3,482.6C87.0,479.0 90.1,475.5 93.4,473.5C96.8,471.5 102.2,469.9 105.6,470.4C108.9,471.0 114.0,473.1 113.6,476.5C113.3,479.9 106.6,485.6 103.5,490.7C100.5,495.7 98.1,503.7 95.4,506.8C92.7,509.9 89.2,509.9 87.4,509.3C85.5,508.6 85.0,505.2 84.3,502.8C83.6,500.4 83.1,498.1 83.3,494.7Z" fill="url(#f4tan)" stroke="#b8a88c" stroke-width="0.6"/>
<path d="M86.3,509.9C81.6,512.2 85.8,517.3 87.4,521.0C88.9,524.7 91.7,529.3 95.4,532.1C99.2,535.0 104.5,536.8 109.6,538.2C114.7,539.5 120.7,538.4 125.8,540.2C130.8,542.1 135.9,545.8 139.9,549.3C144.0,552.9 146.0,557.7 150.0,561.4C154.1,565.2 159.8,568.7 164.2,571.6C168.6,574.4 173.9,576.8 176.3,578.6C178.7,580.5 177.4,580.4 178.5,582.7C179.7,584.9 179.4,589.9 183.4,592.4C187.4,594.8 196.6,596.1 202.8,597.2C209.0,598.3 215.2,598.3 220.6,598.8C226.0,599.4 231.4,600.5 235.2,600.5C239.0,600.5 240.3,600.5 243.3,598.8C246.2,597.2 250.3,593.7 253.0,590.7C255.7,587.8 257.5,584.0 259.4,581.0C261.4,578.1 263.8,576.3 264.5,572.9C265.2,569.5 264.4,565.7 263.7,560.7C262.9,555.8 262.5,550.6 260.2,543.3C257.9,536.0 263.7,522.5 249.7,517.1C235.7,511.7 198.7,512.6 176.3,510.9C154.0,509.2 130.7,507.0 115.7,506.8C100.7,506.7 91.1,507.5 86.3,509.9Z" fill="url(#f4g)" stroke="#aaa" stroke-width="0.6"/>
<path d="M99.5,559.4C99.7,555.4 100.8,550.5 103.5,547.3C106.2,544.1 111.3,541.4 115.7,540.2C120.0,539.0 125.8,538.7 129.8,540.2C133.9,541.7 136.6,545.8 139.9,549.3C143.3,552.9 146.0,557.7 150.0,561.4C154.1,565.2 159.4,568.5 164.2,571.6C169.0,574.7 177.1,577.7 178.8,580.1C180.4,582.4 177.4,584.5 174.3,585.7C171.2,586.9 165.2,587.4 160.2,587.1C155.1,586.9 149.7,584.3 144.0,584.1C138.2,583.9 131.2,586.5 125.8,586.1C120.4,585.8 115.5,584.5 111.6,582.1C107.7,579.6 104.5,575.3 102.5,571.6C100.5,567.8 99.3,563.5 99.5,559.4Z" fill="url(#f4gr)" stroke="#7a9a6a" stroke-width="0.5"/>
<path d="M63.09,538.59 L75.91,520.05 A6.50,6.50 0 0 1 86.59,520.04 L102.11,542.34 A6.50,6.50 0 0 0 112.90,542.16 L127.40,519.76 A6.50,6.50 0 0 1 138.31,519.75 L152.97,542.35 A6.50,6.50 0 0 0 163.68,542.65 L182.40,516.96" fill="none" stroke="#cb96d1" stroke-width="5.8" stroke-linejoin="round"/><path d="M70.17,514.93 L88.91,541.96 A6.50,6.50 0 0 0 99.68,541.83 L114.27,519.61 A6.50,6.50 0 0 1 125.14,519.62 L139.55,541.59 A6.50,6.50 0 0 0 150.43,541.59 L165.10,519.22 A6.50,6.50 0 0 1 175.80,518.98 L196.56,547.69" fill="none" stroke="#962f9a" stroke-width="5.8" stroke-linejoin="round"/><path d="M89.70,525.78 L103.63,542.07" stroke="#cb96d1" stroke-width="5.8" fill="none"/><path d="M140.95,525.09 L154.34,541.92" stroke="#cb96d1" stroke-width="5.8" fill="none"/>
<radialGradient id="ug_orange_138_466" gradientUnits="userSpaceOnUse" cx="138" cy="466" r="60"><stop offset="0" stop-color="#fbe8c4"/><stop offset="0.5" stop-color="#f8d694"/><stop offset="1" stop-color="#f4c670"/></radialGradient><path d="M91.4,500.8C92.1,497.7 93.1,492.7 95.4,488.6C97.8,484.6 101.5,480.6 105.6,476.5C109.6,472.5 114.7,468.1 119.7,464.4C124.8,460.7 130.8,456.8 135.9,454.3C140.9,451.7 146.0,450.4 150.0,449.2C154.1,448.0 156.4,447.4 160.2,447.2C163.9,447.0 168.2,448.5 172.3,448.2C176.3,447.9 179.7,445.7 184.4,445.2C189.1,444.7 195.2,444.5 200.6,445.2C206.0,445.8 211.4,447.4 216.8,449.2C222.2,451.1 228.0,453.1 233.0,456.3C237.9,459.5 242.6,461.1 246.2,468.3C249.9,475.6 253.2,488.7 254.9,499.7C256.7,510.8 257.6,525.9 256.7,534.6C255.8,543.3 252.0,547.9 249.7,552.0C247.4,556.1 244.8,556.1 242.7,559.0C240.7,561.9 240.1,566.7 237.5,569.4C234.9,572.2 230.8,574.7 227.1,575.5C223.3,576.4 218.6,576.0 214.9,574.7C211.1,573.4 207.0,570.9 204.4,567.7C201.8,564.5 200.3,559.6 199.2,555.5C198.0,551.4 199.2,547.0 197.4,543.3C195.6,539.6 192.0,535.5 188.5,533.1C185.0,530.8 181.1,529.1 176.3,529.1C171.6,529.1 166.2,531.8 160.2,533.1C154.1,534.5 146.3,536.5 139.9,537.2C133.5,537.9 127.1,538.2 121.7,537.2C116.3,536.2 111.6,534.1 107.6,531.1C103.5,528.1 100.2,523.0 97.5,519.0C94.8,514.9 92.4,509.9 91.4,506.8C90.4,503.8 90.7,503.8 91.4,500.8Z" fill="url(#ug_orange_138_466)" stroke="#b8a680" stroke-width="0.6" opacity="0.87" />
<path d="M194.8,543.6C196.7,543.3 201.4,543.1 206.1,541.5C210.9,540.0 220.7,535.4 223.6,534.2" fill="none" stroke="#e8a080" stroke-width="4.5" stroke-linecap="round" stroke-linejoin="round" opacity="0.45"/>
<path d="M178.5,585.9C178.5,583.7 179.9,581.7 181.8,580.2C183.7,578.7 186.9,577.3 189.9,577.0C192.8,576.7 197.2,577.4 199.6,578.6C202.0,579.8 203.9,582.0 204.4,584.3C205.0,586.6 203.9,589.9 202.8,592.4C201.7,594.8 200.1,597.9 198.0,598.8C195.8,599.8 192.6,599.0 189.9,598.0C187.2,597.1 183.7,595.2 181.8,593.2C179.9,591.1 178.5,588.0 178.5,585.9Z" fill="url(#g_blue)" stroke="#7fa3c8" stroke-width="0.6" />
<path d="M155.1,653.9C155.2,650.1 156.3,645.2 157.5,640.9C158.7,636.6 160.5,631.2 162.4,628.0C164.3,624.7 166.1,622.8 168.8,621.5C171.5,620.1 176.1,619.7 178.5,619.9C181.0,620.0 183.4,620.1 183.4,622.3C183.4,624.5 179.9,628.6 178.5,632.8C177.2,637.0 175.8,642.8 175.3,647.4C174.8,652.0 175.0,656.5 175.3,660.3C175.6,664.1 176.8,666.9 176.9,670.0C177.1,673.2 177.2,677.9 176.1,679.4C175.0,680.9 172.7,680.0 170.5,678.9C168.2,677.9 164.7,675.8 162.4,673.3C160.1,670.7 157.9,666.8 156.7,663.6C155.5,660.3 154.9,657.6 155.1,653.9Z" fill="url(#f4b4)" stroke="#b49ab4" stroke-width="0.5"/>
<path d="M211.7,632.8C213.5,628.9 217.8,626.1 220.6,623.9C223.4,621.8 226.3,619.7 228.7,619.9C231.1,620.0 234.0,622.6 235.2,624.7C236.4,626.9 236.8,630.1 236.0,632.8C235.2,635.5 232.6,638.3 230.3,640.9C228.0,643.5 225.1,645.8 222.2,648.2C219.4,650.6 215.4,655.3 213.3,655.1C211.3,655.0 210.4,651.1 210.1,647.4C209.8,643.7 210.0,636.7 211.7,632.8Z" fill="#b48cb8" stroke="#a890a8" stroke-width="0.5"/>
<path d="M203.6,586.7C205.8,586.0 210.2,587.8 214.1,588.3C218.1,588.9 223.6,588.9 227.1,589.9C230.6,591.0 233.6,592.5 235.2,594.8C236.8,597.1 237.6,600.6 236.8,603.7C236.0,606.8 233.0,610.2 230.3,613.4C227.6,616.6 223.3,620.1 220.6,623.1C217.9,626.1 215.6,628.2 214.1,631.2C212.7,634.2 212.0,637.1 211.7,640.9C211.4,644.7 212.3,649.8 212.5,653.9C212.8,657.9 213.9,661.4 213.3,665.2C212.8,669.0 211.0,673.0 209.3,676.5C207.5,680.0 205.2,683.7 202.8,686.2C200.4,688.8 197.4,690.8 194.7,691.9C192.0,693.0 189.2,693.6 186.6,692.7C184.1,691.7 181.2,688.6 179.4,686.2C177.5,683.8 177.1,680.8 175.3,678.1C173.6,675.4 170.6,673.0 168.8,670.0C167.1,667.1 165.3,664.1 164.8,660.3C164.3,656.5 164.7,651.7 165.6,647.4C166.5,643.1 168.3,638.5 170.5,634.4C172.6,630.4 175.6,626.9 178.5,623.1C181.5,619.3 185.3,615.3 188.3,611.8C191.2,608.3 194.2,605.3 196.3,602.1C198.5,598.8 200.0,594.9 201.2,592.4C202.4,589.8 201.5,587.4 203.6,586.7Z" fill="url(#f4b7)" stroke="#a9a4c4" stroke-width="0.6"/>
<path d="M280.2,506.7C281.5,505.2 284.4,509.3 285.4,511.9C286.5,514.5 286.9,519.2 286.7,522.4C286.4,525.6 285.2,528.8 284.1,531.1C282.9,533.4 280.8,538.1 279.7,536.3C278.6,534.6 277.5,525.6 277.6,520.6C277.7,515.7 278.9,508.1 280.2,506.7Z" fill="url(#g_green)" stroke="#9bb592" stroke-width="0.6" />
<path d="M254.9,482.3C258.4,475.5 266.7,477.0 270.6,476.7C274.6,476.4 276.4,478.5 278.5,480.5C280.5,482.6 281.9,486.1 282.8,489.3C283.8,492.5 284.2,496.2 284.1,499.7C283.9,503.2 283.0,504.4 282.0,510.2C280.9,516.0 280.1,526.3 277.6,534.6C275.1,542.9 270.6,555.3 267.1,559.8C263.7,564.4 259.9,562.0 256.7,561.9C253.5,561.9 250.3,561.0 248.0,559.3C245.6,557.7 242.5,559.0 242.7,552.0C243.0,545.0 247.7,528.8 249.7,517.1C251.8,505.5 251.5,489.0 254.9,482.3Z" fill="url(#g_yellow)" stroke="#c4c39a" stroke-width="0.6" />
<path d="M215.7,485.8C215.9,483.4 215.9,479.4 217.5,477.1C219.1,474.7 222.3,473.0 225.3,471.8C228.4,470.7 232.0,469.8 235.8,470.1C239.5,470.4 245.1,472.4 248.0,473.6C250.9,474.7 253.5,475.6 253.2,477.1C252.9,478.5 249.1,480.3 246.2,482.3C243.3,484.3 238.4,487.2 235.8,489.3C233.2,491.3 232.9,493.8 230.5,494.5C228.2,495.2 224.2,494.2 221.8,493.6C219.5,493.0 217.6,492.3 216.6,491.0C215.6,489.7 215.6,488.1 215.7,485.8Z" fill="url(#g_nblue)" stroke="#8c9cc4" stroke-width="0.6" />
<path d="M198.3,528.5C200.5,527.5 207.2,523.7 211.4,522.4C215.6,521.1 219.8,520.3 223.6,520.6C227.3,520.9 231.3,522.1 234.0,524.1C236.8,526.2 239.1,529.6 240.1,532.8C241.1,536.0 240.9,540.1 240.1,543.3C239.4,546.5 237.1,549.1 235.8,552.0C234.5,554.9 232.9,558.0 232.3,560.7C231.7,563.4 232.3,566.8 232.3,568.0" fill="none" stroke="#a08ad8" stroke-width="4.8" stroke-linecap="butt" stroke-linejoin="round" stroke-dasharray="12,5" opacity="0.9"/>
<path d="M233.7,570.8C234.6,572.0 236.2,575.8 239.3,578.1C242.4,580.5 250.2,584.0 252.3,585.1" fill="none" stroke="#5a2bf5" stroke-width="5.4" stroke-linecap="butt" stroke-linejoin="round" stroke-dasharray="5,3,30,0"/>
<path d="M208.8,511.9C209.0,508.7 208.9,504.5 210.5,501.5C212.1,498.4 215.6,495.2 218.3,493.6C221.1,492.0 224.7,491.4 227.1,491.9C229.4,492.3 230.3,493.5 232.3,496.2C234.3,499.0 236.6,504.1 239.3,508.4C241.9,512.8 245.4,518.0 248.0,522.4C250.6,526.7 253.5,531.1 254.9,534.6C256.4,538.1 257.3,540.8 256.7,543.3C256.1,545.8 253.8,548.1 251.5,549.4C249.1,550.7 245.9,551.3 242.7,551.1C239.5,551.0 235.8,550.1 232.3,548.5C228.8,546.9 225.0,544.5 221.8,541.5C218.6,538.6 215.3,534.6 213.1,531.1C210.9,527.6 209.5,523.8 208.8,520.6C208.0,517.4 208.5,515.1 208.8,511.9Z" fill="url(#g_green)" stroke="#9bb592" stroke-width="0.6" opacity="0.74" />
<radialGradient id="ug_pink_243_490" gradientUnits="userSpaceOnUse" cx="243" cy="490" r="48"><stop offset="0" stop-color="#fee4e4"/><stop offset="1" stop-color="#f4bebe"/></radialGradient><path d="M231.4,494.5C231.7,491.6 233.3,488.4 235.8,485.8C238.2,483.2 242.7,480.5 246.2,478.8C249.7,477.1 253.2,475.7 256.7,475.7C260.2,475.7 264.0,476.8 267.1,478.8C270.3,480.8 273.5,484.0 275.9,487.5C278.2,491.0 280.1,495.4 281.1,499.7C282.1,504.1 282.1,509.0 282.0,513.7C281.8,518.3 280.7,523.0 280.2,527.6C279.8,532.3 279.9,536.9 279.3,541.5C278.8,546.2 278.2,552.1 276.7,555.5C275.3,558.8 272.5,560.9 270.6,561.6C268.7,562.3 267.0,561.7 265.4,559.8C263.8,558.0 262.5,553.9 261.0,550.3C259.6,546.6 258.6,542.4 256.7,538.1C254.8,533.7 252.3,528.5 249.7,524.1C247.1,519.8 243.6,515.4 241.0,511.9C238.4,508.4 235.6,506.1 234.0,503.2C232.4,500.3 231.1,497.4 231.4,494.5Z" fill="url(#ug_pink_243_490)" stroke="#c9a8a8" stroke-width="0.6" />
<path d="M199.2,461.4C200.5,459.6 201.8,456.0 204.4,454.4C207.0,452.8 211.4,451.9 214.9,451.8C218.3,451.6 221.5,452.5 225.3,453.5C229.1,454.5 233.4,456.6 237.5,457.9C241.6,459.2 246.7,460.5 249.7,461.4C252.8,462.2 255.8,464.0 255.8,463.1C255.8,462.2 252.5,458.5 249.7,456.1C247.0,453.8 241.8,451.0 239.3,449.2C236.7,447.4 234.7,446.5 234.4,445.3C234.1,444.2 235.8,442.4 237.5,442.2C239.2,442.0 241.9,442.2 244.5,443.9C247.1,445.7 250.3,450.0 253.2,452.7C256.1,455.3 259.0,457.9 261.9,459.6C264.8,461.4 268.3,461.8 270.6,463.1C273.0,464.4 275.1,465.7 275.9,467.5C276.6,469.2 276.2,472.0 275.0,473.6C273.8,475.1 271.6,476.4 268.9,476.7C266.1,477.0 262.2,476.3 258.4,475.3C254.7,474.4 250.3,472.6 246.2,471.0C242.2,469.4 238.1,467.2 234.0,465.7C230.0,464.3 224.7,462.8 221.8,462.2C218.9,461.7 217.9,461.5 216.6,462.2C215.3,463.0 214.0,464.7 214.0,466.6C214.0,468.5 216.3,471.0 216.6,473.6C216.9,476.2 216.9,479.4 215.7,482.3C214.6,485.2 211.8,488.2 209.6,491.0C207.5,493.8 204.3,495.9 202.7,498.8C201.1,501.8 201.1,505.7 200.0,508.4C199.0,511.2 198.2,514.0 196.6,515.4C195.0,516.9 192.3,517.4 190.5,517.1C188.6,516.9 186.2,515.7 185.2,513.7C184.2,511.6 183.8,507.9 184.4,504.9C184.9,502.0 186.8,499.0 188.7,496.2C190.6,493.5 193.9,491.0 195.7,488.4C197.4,485.8 198.9,483.0 199.2,480.5C199.5,478.1 198.9,475.0 197.4,473.6C196.0,472.1 193.1,471.8 190.5,471.8C187.8,471.8 182.7,473.3 181.7,473.6C180.7,473.8 185.7,473.5 184.4,473.5C183.2,473.5 176.5,474.3 174.3,473.5C172.1,472.6 170.9,470.1 171.3,468.4C171.6,466.7 173.8,464.5 176.3,463.4C178.9,462.2 183.1,461.1 186.4,461.3C189.8,461.6 194.4,464.8 196.6,464.8C198.7,464.8 197.9,463.1 199.2,461.4Z" fill="url(#f4m)" stroke="#d8c040" stroke-width="0.6"/>
<text class="l" x="94" y="470.2" text-anchor="middle">B9</text>
<text class="l" x="143.3" y="491" text-anchor="middle">B2</text>
<text class="l" x="205.7" y="476" text-anchor="middle">M</text>
<text class="l" x="236.5" y="486.4" text-anchor="middle">ABC5</text>
<text class="l" x="257" y="504" text-anchor="middle">B3</text>
<text class="l" x="295.7" y="499" text-anchor="middle">B11</text>
<text class="l" x="223.9" y="517.5" text-anchor="middle">ABC4</text>
<text class="l" x="300.7" y="538" text-anchor="middle">ABC3</text>
<text class="l" x="123.3" y="567.3" text-anchor="middle">ABC1</text>
<text class="l" x="180.8" y="564" text-anchor="middle">B1</text>
<text class="l" x="171.7" y="606" text-anchor="middle">ABC2</text>
<text class="l" x="151.2" y="642" text-anchor="middle">B4</text>
<text class="l" x="187" y="656" text-anchor="middle">B7</text>
<path d="M418.8,470.5C418.6,468.9 420.3,464.9 421.8,462.6C423.4,460.3 425.6,458.1 427.9,456.6C430.2,455.0 434.4,453.2 435.8,453.2C437.2,453.2 437.7,454.6 436.4,456.6C435.1,458.5 430.1,462.4 427.9,465.0C425.7,467.7 424.6,471.4 423.1,472.3C421.5,473.2 419.0,472.1 418.8,470.5Z" fill="url(#g_tan)" stroke="#b3a88e" stroke-width="0.6" />
<path d="M409.1,493.0C407.2,489.4 409.6,488.9 410.3,486.9C411.0,484.9 412.0,483.3 413.3,480.8C414.7,478.4 416.8,475.0 418.2,472.3C419.6,469.7 420.2,467.5 421.8,465.0C423.5,462.6 425.5,459.7 427.9,457.8C430.3,455.8 434.0,454.3 436.4,453.5C438.8,452.7 440.5,454.2 442.5,452.9C444.5,451.6 446.7,448.1 448.5,445.6C450.4,443.2 451.4,440.6 453.4,438.3C455.4,436.1 458.3,433.5 460.7,432.3C463.1,431.0 465.1,430.6 468.0,430.8C470.8,431.0 474.4,432.4 477.7,433.5C480.9,434.5 484.1,435.7 487.4,437.1C490.6,438.6 494.5,440.5 497.1,442.0C499.7,443.5 501.1,446.4 503.2,446.2C505.2,446.0 506.9,442.3 509.2,440.8C511.6,439.3 513.6,438.4 517.3,437.1C521.0,435.9 526.7,433.3 531.4,433.1C536.2,432.9 541.2,433.8 545.6,436.1C550.0,438.5 554.7,443.4 557.7,447.2C560.8,451.1 561.9,455.7 563.8,459.4C565.7,463.1 569.2,465.1 568.9,469.5C568.5,473.9 565.7,481.5 561.8,485.7C557.9,489.9 549.3,493.8 545.6,494.8C541.9,495.8 542.2,494.3 539.5,491.7C536.8,489.2 533.8,482.8 529.4,479.6C525.0,476.4 518.6,474.0 513.2,472.5C507.9,471.0 502.5,470.5 497.1,470.5C491.7,470.5 486.3,471.3 480.9,472.5C475.5,473.7 470.1,475.4 464.7,477.6C459.3,479.8 453.6,483.3 448.5,485.7C443.5,488.0 438.1,489.4 434.4,491.7C430.7,494.1 428.4,497.1 426.3,499.8C424.2,502.6 424.7,509.5 421.8,508.3C419.0,507.2 411.0,496.5 409.1,493.0Z" fill="url(#f5red)" stroke="#c8a0a0" stroke-width="0.6"/>
<path d="M451.0,449.3C449.8,447.2 453.8,443.1 455.8,440.8C457.8,438.5 460.3,436.1 463.1,435.3C465.9,434.5 469.6,434.8 472.8,435.9C476.1,437.0 480.1,439.4 482.5,442.0C485.0,444.6 488.2,449.5 487.4,451.7C486.6,453.9 481.7,455.1 477.7,455.3C473.6,455.5 467.6,453.9 463.1,452.9C458.7,451.9 452.2,451.3 451.0,449.3Z" fill="#fee6e6" opacity="0.85" filter="url(#blur25)"/>
<path d="M429.1,461.4C431.4,459.0 436.8,456.6 440.0,456.6C443.3,456.6 445.5,459.6 448.5,461.4C451.6,463.2 457.8,465.5 458.3,467.5C458.7,469.5 454.6,472.1 451.0,473.5C447.3,475.0 440.5,476.4 436.4,476.0C432.4,475.6 427.9,473.5 426.7,471.1C425.5,468.7 426.9,463.8 429.1,461.4Z" fill="#fbd0d0" opacity="0.7" filter="url(#blur25)"/>
<path d="M475.2,433.5C475.7,433.0 484.5,436.0 487.4,437.1C490.3,438.3 495.0,440.7 497.1,442.0C499.2,443.2 503.7,444.6 503.4,446.5C503.1,448.4 496.7,455.8 494.9,456.2C493.1,456.6 491.3,451.3 489.8,449.3C488.3,447.2 485.7,442.9 483.7,440.8C481.8,438.7 474.8,434.0 475.2,433.5Z" fill="#e8a890" stroke="#c8a090" stroke-width="0.5"/>
<path d="M442.5,453.5C442.5,451.6 446.7,448.2 448.5,446.2C450.4,444.3 451.4,442.3 453.4,442.0C455.4,441.7 458.1,443.4 460.7,444.4C463.3,445.4 466.7,446.6 469.2,448.1C471.6,449.5 474.1,451.3 475.2,452.9C476.4,454.5 476.9,456.1 476.1,457.8C475.3,459.4 473.0,461.6 470.4,462.6C467.8,463.7 463.5,464.3 460.7,464.1C457.8,463.9 455.4,462.5 453.4,461.4C451.4,460.4 450.4,459.1 448.5,457.8C446.7,456.5 442.5,455.4 442.5,453.5Z" fill="#f2ab80" stroke="#c8a090" stroke-width="0.5"/>
<path d="M412.1,484.5C412.1,483.1 414.2,478.6 415.8,476.0C417.4,473.3 419.9,470.3 421.8,468.7C423.8,467.1 425.1,466.4 427.3,466.3C429.5,466.2 432.6,467.2 435.2,468.1C437.8,469.0 442.7,470.2 442.7,471.7C442.7,473.2 438.3,475.7 435.2,477.2C432.1,478.7 427.5,479.7 424.3,480.8C421.0,482.0 417.8,483.5 415.8,484.1C413.8,484.7 412.1,485.8 412.1,484.5Z" fill="#f2ab80" stroke="#c8a090" stroke-width="0.5"/>
<path d="M417.2,541.3C418.0,538.1 420.4,536.6 424.3,535.2C428.1,533.9 434.4,533.7 440.4,533.2C446.5,532.7 453.3,532.7 460.7,532.2C468.1,531.7 479.9,529.1 484.9,530.2C490.0,531.2 490.7,534.2 491.0,538.2C491.3,542.3 490.3,550.4 487.0,554.4C483.6,558.5 476.8,560.8 470.8,562.5C464.7,564.2 457.3,564.5 450.6,564.5C443.8,564.5 435.6,564.2 430.3,562.5C425.1,560.8 421.4,558.0 419.2,554.4C417.0,550.9 416.3,544.5 417.2,541.3Z" fill="url(#g_grey)" stroke="#a8a8a8" stroke-width="0.6" />
<path d="M426.5,560.2C427.4,558.5 430.2,556.5 432.6,556.2C434.9,555.8 438.3,555.8 440.7,558.2C443.0,560.6 443.4,565.3 446.7,570.3C450.1,575.4 455.8,583.5 460.9,588.5C465.9,593.6 472.3,597.6 477.1,600.7C481.8,603.7 487.9,604.0 489.2,606.7C490.5,609.4 486.5,613.8 485.2,616.8C483.8,619.9 482.1,620.9 481.1,624.9C480.1,629.0 480.1,636.4 479.1,641.1C478.1,645.8 476.7,648.5 475.0,653.2C473.4,658.0 471.3,666.1 469.0,669.4C466.6,672.8 463.4,673.6 460.9,673.5C458.4,673.3 456.2,670.8 453.8,668.4C451.5,666.1 449.6,662.9 446.7,659.3C443.9,655.8 439.3,651.6 436.6,647.2C433.9,642.8 431.8,638.1 430.6,633.0C429.3,628.0 430.7,623.2 429.1,616.8C427.6,610.4 422.1,600.0 421.5,594.6C420.8,589.2 424.2,587.9 425.5,584.5C426.8,581.1 429.2,577.4 429.5,574.4C429.9,571.3 428.0,568.6 427.5,566.3C427.0,563.9 425.7,561.9 426.5,560.2Z" fill="url(#g_mint)" stroke="#a3cdb0" stroke-width="0.6" />
<path d="M477.1,618.9C477.8,618.0 482.5,618.5 485.2,619.9C487.9,621.2 491.8,624.4 493.2,627.0C494.7,629.5 495.0,632.0 493.7,635.0C492.3,638.1 487.2,642.1 485.2,645.2C483.1,648.3 482.5,652.6 481.1,653.7C479.7,654.7 476.9,654.0 476.7,651.2C476.4,648.5 478.8,641.4 479.5,637.1C480.2,632.7 481.1,628.0 480.7,624.9C480.3,621.9 476.3,619.7 477.1,618.9Z" fill="url(#g_teal)" stroke="#84bcbe" stroke-width="0.6" opacity="0.8" />
<path d="M408.3,607.7C410.0,607.4 416.7,612.1 420.4,612.4C424.2,612.7 429.6,609.2 431.0,609.4C432.3,609.5 430.6,612.1 428.5,613.2C426.4,614.4 421.5,616.1 418.4,616.2C415.4,616.4 412.0,615.6 410.3,614.2C408.6,612.8 406.6,608.0 408.3,607.7Z" fill="#b5edc8" stroke="#a3cdb0" stroke-width="0.5"/>
<path d="M390.1,586.5C389.9,583.1 388.1,577.7 389.1,574.4C390.1,571.0 393.0,568.0 396.2,566.3C399.4,564.6 404.3,564.4 408.3,564.3C412.4,564.1 417.1,564.3 420.4,565.3C423.8,566.3 427.0,567.8 428.5,570.3C430.1,572.9 430.1,577.4 429.5,580.4C429.0,583.5 426.7,585.8 425.5,588.5C424.3,591.2 422.0,593.9 422.5,596.6C423.0,599.3 427.2,602.5 428.5,604.7C429.9,606.9 431.6,608.4 430.6,609.8C429.5,611.1 425.5,613.0 422.5,612.8C419.4,612.6 415.7,609.1 412.4,608.8C409.0,608.4 405.3,611.8 402.2,610.8C399.2,609.8 396.2,605.4 394.2,602.7C392.1,600.0 390.8,597.3 390.1,594.6C389.4,591.9 390.3,589.9 390.1,586.5Z" fill="url(#g_teal)" stroke="#84bcbe" stroke-width="0.6" />
<path d="M438.6,572.4C438.0,569.3 439.0,564.6 440.7,562.2C442.4,559.9 444.7,558.2 448.8,558.2C452.8,558.2 460.6,562.2 464.9,562.2C469.3,562.2 471.0,559.4 475.0,558.2C479.1,557.0 486.2,554.8 489.2,555.2C492.2,555.5 491.2,558.4 493.2,560.2C495.3,562.1 497.3,564.6 501.3,566.3C505.4,568.0 514.1,568.3 517.5,570.3C520.9,572.4 521.6,575.7 521.6,578.4C521.6,581.1 520.2,584.2 517.5,586.5C514.8,588.9 509.8,591.2 505.4,592.6C501.0,593.9 495.6,594.9 491.2,594.6C486.8,594.3 482.8,591.6 479.1,590.6C475.4,589.5 472.7,589.2 469.0,588.5C465.3,587.9 460.9,587.9 456.8,586.5C452.8,585.2 447.7,582.8 444.7,580.4C441.7,578.1 439.3,575.4 438.6,572.4Z" fill="url(#g_lgrey)" stroke="#ababab" stroke-width="0.6" />
<path d="M433.6,619.9C433.7,617.7 432.0,609.9 434.2,606.7C436.4,603.5 441.6,602.5 446.7,600.7C451.9,598.8 460.7,597.8 464.9,595.6C469.1,593.4 472.0,590.7 472.0,587.5C472.0,584.3 468.1,579.9 464.9,576.4C461.7,572.9 455.3,569.7 452.8,566.3C450.3,562.9 448.4,559.0 449.8,556.2C451.1,553.3 456.7,550.4 460.9,549.1C465.1,547.8 472.7,548.3 475.0,548.1" fill="none" stroke="#8fc4c4" stroke-width="13.4" stroke-linecap="round"/>
<path d="M433.6,619.9C433.7,617.7 432.0,609.9 434.2,606.7C436.4,603.5 441.6,602.5 446.7,600.7C451.9,598.8 460.7,597.8 464.9,595.6C469.1,593.4 472.0,590.7 472.0,587.5C472.0,584.3 468.1,579.9 464.9,576.4C461.7,572.9 455.3,569.7 452.8,566.3C450.3,562.9 448.4,559.0 449.8,556.2C451.1,553.3 456.7,550.4 460.9,549.1C465.1,547.8 472.7,548.3 475.0,548.1" fill="none" stroke="#b4dcdc" stroke-width="12.2" stroke-linecap="round"/>
<path d="M433.6,619.9C434.8,621.6 437.8,627.5 440.7,630.0C443.5,632.5 447.6,633.8 450.8,635.0C454.0,636.3 458.4,637.1 459.9,637.5" fill="none" stroke="#8fc4c4" stroke-width="9.4" stroke-linecap="round"/>
<path d="M433.6,619.9C434.8,621.6 437.8,627.5 440.7,630.0C443.5,632.5 447.6,633.8 450.8,635.0C454.0,636.3 458.4,637.1 459.9,637.5" fill="none" stroke="#b4dcdc" stroke-width="8.2" stroke-linecap="round"/>
<path d="M444.7,616.8C444.0,614.8 444.4,611.0 446.7,608.8C449.1,606.5 454.8,604.8 458.9,603.1C462.9,601.4 467.4,600.1 471.0,598.6C474.6,597.2 478.8,593.6 480.5,594.6C482.3,595.6 482.4,601.7 481.5,604.7C480.6,607.7 478.5,610.5 475.0,612.8C471.6,615.1 464.9,616.9 460.9,618.3C456.8,619.6 453.5,621.1 450.8,620.9C448.1,620.7 445.4,618.9 444.7,616.8Z" fill="url(#g_teal)" stroke="#84bcbe" stroke-width="0.6" />
<path d="M449.8,621.3C450.8,619.7 457.4,619.2 460.9,617.9C464.4,616.5 468.0,613.7 471.0,613.2C474.0,612.7 477.4,612.9 479.1,614.8C480.8,616.8 481.1,620.6 481.1,624.9C481.1,629.3 480.1,636.4 479.1,641.1C478.1,645.8 476.7,648.5 475.0,653.2C473.4,658.0 471.3,666.1 469.0,669.4C466.6,672.8 463.4,673.6 460.9,673.5C458.4,673.3 455.2,670.8 453.8,668.4C452.5,666.1 452.1,662.9 452.8,659.3C453.5,655.8 456.7,650.9 457.9,647.2C459.0,643.5 460.4,640.4 459.9,637.1C459.4,633.8 456.5,630.0 454.8,627.4C453.1,624.7 448.8,622.9 449.8,621.3Z" fill="url(#g_mint)" stroke="#a3cdb0" stroke-width="0.6" />
<path d="M449.8,640.1C450.4,638.9 454.3,638.6 455.8,639.1C457.4,639.6 459.1,641.7 459.3,643.1C459.4,644.6 458.1,647.1 456.8,647.6C455.6,648.1 453.0,647.4 451.8,646.2C450.6,644.9 449.1,641.3 449.8,640.1Z" fill="#fff" stroke="#a3cdb0" stroke-width="0.5"/>
<path d="M451.6,531.8C453.9,531.1 461.8,530.2 466.7,529.8C471.6,529.3 478.4,529.0 480.9,529.3C483.4,529.7 484.3,531.1 481.9,531.8C479.5,532.4 471.6,533.1 466.7,533.4C461.9,533.7 455.5,534.1 453.0,533.8C450.5,533.5 449.3,532.4 451.6,531.8Z" fill="#6aa838"/>
<path d="M363.59,550.10 L377.82,531.25 A6.50,6.50 0 0 1 388.46,531.62 L402.81,553.71 A6.50,6.50 0 0 0 413.71,553.71 L428.02,531.66 A6.50,6.50 0 0 1 438.94,531.69 L453.19,553.94 A6.50,6.50 0 0 0 463.98,554.17 L482.04,528.41" fill="none" stroke="#cb96d1" stroke-width="5.8" stroke-linejoin="round"/><path d="M371.04,526.15 L389.74,553.90 A6.50,6.50 0 0 0 400.61,553.77 L415.07,531.13 A6.50,6.50 0 0 1 426.02,531.14 L440.38,553.66 A6.50,6.50 0 0 0 451.28,553.74 L465.94,531.53 A6.50,6.50 0 0 1 476.83,531.59 L489.16,550.74" fill="none" stroke="#962f9a" stroke-width="5.8" stroke-linejoin="round"/><path d="M391.31,537.39 L404.51,553.85" stroke="#cb96d1" stroke-width="5.8" fill="none"/><path d="M441.47,536.94 L454.68,553.75" stroke="#cb96d1" stroke-width="5.8" fill="none"/>
<path d="M572.3,568.9C574.2,567.8 578.6,570.7 580.1,572.4C581.6,574.1 582.0,576.5 581.3,579.4C580.7,582.3 578.1,586.6 576.1,589.8C574.1,593.0 571.7,595.6 569.1,598.5C566.5,601.4 563.3,604.9 560.4,607.2C557.5,609.6 553.9,612.2 551.7,612.8C549.6,613.5 547.0,612.7 547.5,611.1C548.0,609.4 551.3,608.2 554.8,602.9C558.4,597.6 565.9,585.0 568.8,579.4C571.7,573.7 570.4,570.1 572.3,568.9Z" fill="url(#g_blue)" stroke="#7fa3c8" stroke-width="0.6" />
<path d="M506.4,600.7C508.4,597.3 518.9,594.6 521.6,596.6C524.3,598.6 522.8,607.6 522.6,612.8C522.3,618.0 521.5,625.8 519.9,628.0C518.4,630.2 515.2,627.8 513.5,625.9C511.7,624.1 510.6,621.1 509.4,616.8C508.2,612.6 504.4,604.0 506.4,600.7Z" fill="url(#g_grey)" stroke="#a8a8a8" stroke-width="0.6" />
<path d="M527.0,568.9C529.6,566.6 532.8,565.6 537.4,565.4C542.1,565.3 549.3,567.3 554.8,568.0C560.4,568.8 567.6,567.9 570.9,569.8C574.1,571.7 574.4,575.7 574.4,579.4C574.4,583.0 572.9,588.1 570.9,591.6C568.8,595.1 565.4,598.3 562.2,600.3C559.0,602.2 555.8,603.2 551.7,603.2C547.6,603.3 541.5,602.3 537.4,600.6C533.3,599.0 529.6,596.9 527.0,593.3C524.4,589.8 521.7,583.4 521.7,579.4C521.7,575.3 524.4,571.2 527.0,568.9Z" fill="url(#f5gc)" stroke="#a4a4a4" stroke-width="0.6"/>
<path d="M495.3,606.7C496.1,604.4 499.1,602.9 501.3,602.7C503.5,602.5 506.7,602.7 508.4,605.7C510.1,608.8 509.6,617.0 511.4,620.9C513.3,624.8 517.8,629.0 519.5,629.0C521.2,629.0 521.1,624.6 521.6,620.9C522.1,617.2 520.5,609.4 522.6,606.7C524.6,604.0 529.5,604.4 533.7,604.7C537.9,605.0 544.1,608.8 547.8,608.8C551.6,608.8 554.2,604.7 555.9,604.7C557.7,604.7 560.7,607.0 558.4,608.8C556.0,610.5 546.6,613.2 541.8,615.2C537.0,617.2 533.0,618.6 529.6,620.9C526.3,623.2 523.6,625.6 521.6,629.0C519.5,632.3 518.2,637.1 517.5,641.1C516.8,645.2 517.8,649.2 517.5,653.2C517.2,657.3 516.8,661.0 515.5,665.4C514.1,669.8 512.1,675.8 509.4,679.5C506.7,683.2 502.7,686.3 499.3,687.6C495.9,689.0 492.1,689.0 489.2,687.6C486.3,686.3 483.8,683.2 482.1,679.5C480.4,675.8 479.3,669.8 479.1,665.4C478.9,661.0 479.8,657.3 481.1,653.2C482.5,649.2 485.2,645.2 487.2,641.1C489.2,637.1 491.7,633.0 493.2,629.0C494.8,624.9 495.9,620.6 496.3,616.8C496.6,613.1 494.4,609.1 495.3,606.7Z" fill="url(#g_lav)" stroke="#a9a4c4" stroke-width="0.6" />
<path d="M506.4,600.7C508.4,597.3 518.9,594.6 521.6,596.6C524.3,598.6 522.8,607.6 522.6,612.8C522.3,618.0 521.5,625.8 519.9,628.0C518.4,630.2 515.2,627.8 513.5,625.9C511.7,624.1 510.6,621.1 509.4,616.8C508.2,612.6 504.4,604.0 506.4,600.7Z" fill="url(#g_grey)" stroke="#a8a8a8" stroke-width="0.6" />
<path d="M519.5,629.0C521.2,625.6 524.6,623.2 527.6,620.9C530.7,618.5 535.0,615.5 537.7,614.8C540.4,614.1 542.6,614.8 543.8,616.8C545.0,618.9 545.9,623.2 545.2,627.0C544.5,630.7 542.0,635.7 539.8,639.1C537.5,642.5 533.7,644.1 531.7,647.2C529.6,650.2 529.3,654.3 527.6,657.3C525.9,660.3 523.4,663.6 521.6,665.4C519.7,667.1 517.2,669.8 516.5,667.8C515.8,665.8 517.3,657.7 517.5,653.2C517.7,648.8 517.2,645.2 517.5,641.1C517.8,637.1 517.8,632.3 519.5,629.0Z" fill="url(#f5c9)" stroke="#b08fb0" stroke-width="0.5"/>
<radialGradient id="ug_orange_488_478" gradientUnits="userSpaceOnUse" cx="488" cy="478" r="50"><stop offset="0" stop-color="#fbe8c4"/><stop offset="0.5" stop-color="#f8d694"/><stop offset="1" stop-color="#f4c670"/></radialGradient><path d="M421.2,505.9C421.7,503.0 422.1,497.1 424.3,493.8C426.5,490.4 430.3,488.0 434.4,485.7C438.4,483.3 443.5,482.0 448.5,479.6C453.6,477.2 459.3,473.7 464.7,471.5C470.1,469.3 475.5,467.6 480.9,466.5C486.3,465.3 491.7,464.4 497.1,464.4C502.5,464.4 508.5,465.1 513.2,466.5C518.0,467.8 521.7,470.0 525.4,472.5C529.1,475.1 532.8,478.8 535.5,481.6C538.2,484.5 538.5,485.7 541.6,489.7C544.6,493.8 549.6,497.8 553.7,505.9C557.7,514.0 562.1,530.8 565.8,538.2C569.5,545.7 573.7,547.0 575.9,550.4C578.2,553.7 579.6,556.1 579.4,558.5C579.1,560.8 577.2,563.1 574.3,564.5C571.4,566.0 566.6,566.6 561.8,567.0C557.0,567.4 549.6,565.7 545.6,567.0C541.6,568.2 539.9,571.3 537.5,574.6C535.2,577.9 533.5,583.1 531.4,586.8C529.4,590.5 527.7,594.2 525.4,596.9C523.0,599.6 521.3,601.5 517.3,603.0C513.2,604.4 505.4,605.4 501.1,605.4C496.8,605.4 493.1,604.0 491.4,603.0C489.7,601.9 489.4,599.9 491.0,598.9C492.6,597.9 497.1,597.9 501.1,596.9C505.2,595.9 511.8,595.5 515.3,592.8C518.7,590.1 521.7,584.4 521.7,580.7C521.8,577.0 519.1,573.0 515.7,570.6C512.2,568.2 505.2,567.9 501.1,566.6C497.0,565.2 493.2,565.2 491.0,562.5C488.8,559.8 488.0,554.4 488.0,550.4C488.0,546.3 490.8,541.6 491.0,538.2C491.2,534.9 490.7,531.8 489.0,530.2C487.3,528.5 484.6,528.8 480.9,528.1C477.2,527.5 471.5,526.1 466.7,526.1C462.0,526.1 457.0,528.1 452.6,528.1C448.2,528.1 444.5,527.5 440.4,526.1C436.4,524.8 431.5,522.6 428.3,520.0C425.1,517.5 422.4,513.3 421.2,510.9C420.1,508.6 420.7,508.8 421.2,505.9Z" fill="url(#ug_orange_488_478)" stroke="#b8a680" stroke-width="0.6" opacity="0.87" />
<path d="M489.0,548.4C490.3,549.4 494.4,554.3 497.1,554.8C499.8,555.3 501.6,554.8 505.2,551.4C508.7,548.0 516.1,537.1 518.3,534.2" fill="none" stroke="#e08870" stroke-width="5" stroke-linecap="round" stroke-linejoin="round" opacity="0.4"/>
<path d="M484.9,515.0C485.6,513.5 486.6,508.2 489.0,505.9C491.3,503.6 495.4,502.1 499.1,501.2C502.8,500.4 509.2,500.9 511.2,500.8" fill="none" stroke="#e8a088" stroke-width="5" stroke-linecap="round" stroke-linejoin="round" opacity="0.4"/>
<path d="M497.1,540.7C499.1,537.2 505.2,524.5 509.2,520.0C513.2,515.6 516.6,515.0 521.3,514.0C526.1,513.0 532.8,513.0 537.5,514.0C542.2,515.0 547.3,516.0 549.6,520.0C552.0,524.1 551.8,532.5 551.7,538.2C551.6,544.0 549.5,551.7 549.0,554.4" fill="none" stroke="#a494d4" stroke-width="5" stroke-linecap="butt" stroke-linejoin="round" stroke-dasharray="11,5" opacity="0.85"/>
<path d="M539.2,495.7C539.0,493.8 540.2,491.1 541.8,488.8C543.4,486.5 547.3,480.9 548.7,481.8C550.2,482.7 550.3,490.8 550.5,494.0C550.6,497.3 550.9,500.2 549.6,501.3C548.3,502.4 544.4,501.4 542.6,500.5C540.9,499.5 539.3,497.7 539.2,495.7Z" fill="url(#g_nblue)" stroke="#8c9cc4" stroke-width="0.6" />
<path d="M624.5,523.6C625.6,521.0 627.8,517.8 628.9,518.4C630.0,519.0 630.9,523.9 631.0,527.1C631.0,530.3 630.2,534.7 629.2,537.6C628.2,540.5 626.1,543.0 624.9,544.5C623.7,546.0 622.3,548.4 621.9,546.6C621.5,544.9 622.0,537.9 622.4,534.1C622.9,530.2 623.5,526.2 624.5,523.6Z" fill="url(#g_green)" stroke="#9bb592" stroke-width="0.6" />
<path d="M607.1,503.6C610.0,496.0 613.2,500.1 615.8,499.2C618.4,498.4 620.9,497.8 622.8,498.4C624.7,498.9 626.2,500.2 627.1,502.7C628.1,505.2 628.6,509.7 628.4,513.2C628.1,516.7 626.6,520.1 625.7,523.6C624.9,527.1 623.9,530.6 623.1,534.1C622.4,537.6 622.0,541.3 621.4,544.5C620.8,547.7 620.9,549.8 619.7,553.2C618.4,556.7 616.7,562.1 614.1,565.4C611.4,568.8 608.3,571.9 603.6,573.3C599.0,574.6 590.4,574.2 586.2,573.6C582.0,573.0 580.2,571.7 578.4,569.8C576.5,567.8 571.5,566.2 574.9,562.0C578.2,557.7 593.0,554.3 598.4,544.5C603.8,534.8 604.2,511.1 607.1,503.6Z" fill="url(#g_yellow)" stroke="#c4c39a" stroke-width="0.6" />
<path d="M567.0,470.5C567.5,469.5 571.4,468.2 574.0,467.9C576.6,467.6 580.1,467.7 582.7,468.7C585.3,469.8 588.0,471.9 589.7,474.0C591.3,476.0 592.6,478.9 592.6,480.9C592.7,483.0 591.4,485.1 590.0,486.2C588.7,487.2 586.6,488.1 584.5,487.4C582.4,486.7 579.7,484.0 577.5,481.8C575.3,479.6 573.1,475.9 571.4,474.0C569.7,472.1 566.6,471.5 567.0,470.5Z" fill="url(#g_nblue)" stroke="#8c9cc4" stroke-width="0.6" />
<path d="M547.0,492.3C546.9,488.8 547.4,483.4 548.7,480.1C550.1,476.7 552.4,474.1 554.8,472.2C557.3,470.3 560.9,468.7 563.6,468.7C566.2,468.7 568.2,470.1 570.5,472.2C572.8,474.4 575.2,479.3 577.5,481.8C579.8,484.3 582.1,486.7 584.5,487.0C586.8,487.3 590.0,485.2 591.4,483.6C592.9,482.0 591.7,478.6 593.2,477.5C594.6,476.3 598.0,475.9 600.1,476.6C602.3,477.3 604.8,479.2 606.2,481.8C607.7,484.4 608.3,488.2 608.9,492.3C609.4,496.3 609.1,501.3 609.7,506.2C610.3,511.1 611.5,516.7 612.3,521.9C613.2,527.1 614.2,532.3 614.9,537.6C615.7,542.8 616.7,548.6 616.7,553.2C616.7,557.9 616.3,562.1 614.9,565.4C613.6,568.8 611.3,571.7 608.9,573.3C606.4,574.9 603.0,575.5 600.1,575.0C597.2,574.6 594.0,572.8 591.4,570.7C588.8,568.5 586.6,565.1 584.5,562.0C582.3,558.8 580.4,555.3 578.4,551.5C576.3,547.7 574.4,543.7 572.3,539.3C570.1,534.9 567.9,530.0 565.3,525.4C562.7,520.7 559.2,515.5 556.6,511.4C554.0,507.4 551.2,504.2 549.6,501.0C548.0,497.8 547.1,495.7 547.0,492.3Z" fill="url(#g_pink)" stroke="#c9a8a8" stroke-width="0.6" />
<path d="M512.2,526.1C512.2,522.7 513.1,517.7 515.3,514.0C517.5,510.3 521.7,506.2 525.4,503.9C529.1,501.5 533.8,499.8 537.5,499.8C541.2,499.8 544.3,501.5 547.6,503.9C551.0,506.2 554.4,509.9 557.7,514.0C561.1,518.0 565.1,524.1 567.8,528.1C570.6,532.2 574.0,535.5 574.3,538.2C574.7,541.0 572.6,543.3 569.9,544.7C567.1,546.1 562.5,546.7 557.7,546.7C553.0,546.7 546.9,545.7 541.6,544.7C536.2,543.7 529.8,542.4 525.4,540.7C521.0,538.9 517.5,536.6 515.3,534.2C513.1,531.8 512.2,529.5 512.2,526.1Z" fill="url(#g_green)" stroke="#9bb592" stroke-width="0.6" opacity="0.8" />
<path d="M548.2,554.1 L543.5,565.4" fill="none" stroke="#5a2bf5" stroke-width="5.6" stroke-linecap="butt" stroke-linejoin="round"/>
<path d="M541.8,572.1C541.9,573.3 542.1,577.0 542.6,579.4C543.2,581.7 544.5,584.9 544.9,586.0" fill="none" stroke="#5a2bf5" stroke-width="5.6" stroke-linecap="butt" stroke-linejoin="round"/>
<text class="l" x="421.8" y="452.4" text-anchor="middle">C10</text>
<text class="l" x="458.4" y="458.2" text-anchor="middle">C4</text>
<text class="l" x="531.2" y="455.6" text-anchor="middle">C5</text>
<text class="l" x="583.7" y="465.3" text-anchor="middle">ABC5</text>
<text class="l" x="625.7" y="493.8" text-anchor="middle">AC2</text>
<text class="l" x="489.2" y="494.8" text-anchor="middle">C2</text>
<text class="l" x="579.1" y="516.4" text-anchor="middle">AC1</text>
<text class="l" x="537.7" y="528.4" text-anchor="middle">ABC4</text>
<text class="l" x="640.3" y="553.6" text-anchor="middle">ABC3</text>
<text class="l" x="485.9" y="576.3" text-anchor="middle">C1</text>
<text class="l" x="407.6" y="588.3" text-anchor="middle">C6</text>
<text class="l" x="443.9" y="608" text-anchor="middle">C7</text>
<text class="l" x="583.7" y="608" text-anchor="middle">ABC2</text>
<text class="l" x="467.2" y="635.2" text-anchor="middle">C3</text>
<text class="l" x="531.9" y="635.2" text-anchor="middle">C9</text>
<text class="l" x="500.5" y="661.4" text-anchor="middle">C8</text>
<text class="l" x="476.2" y="522.9" text-anchor="middle" style="fill:#a09078">ABC1</text>
<path d="M720.7,490.7C721.1,488.1 722.8,481.9 724.4,481.6C726.0,481.2 728.9,485.9 730.4,488.6C732.0,491.3 734.2,495.8 733.5,497.7C732.8,499.7 728.3,500.3 726.4,500.2C724.5,500.0 722.9,498.3 722.0,496.7C721.0,495.1 720.3,493.2 720.7,490.7Z" fill="url(#g_tan)" stroke="#b3a88e" stroke-width="0.6" />
<path d="M725.4,480.6C724.9,475.8 725.9,471.1 727.4,466.4C728.9,461.7 731.0,456.5 734.5,452.2C738.0,448.0 743.9,443.8 748.6,441.1C753.4,438.4 758.1,436.4 762.8,436.1C767.5,435.7 772.2,437.4 777.0,439.1C781.7,440.8 786.1,444.0 791.1,446.2C796.2,448.4 802.2,450.7 807.3,452.2C812.3,453.8 817.7,454.4 821.4,455.3C825.2,456.1 831.2,456.4 829.5,457.3C827.8,458.2 817.1,459.5 811.3,460.7C805.6,462.0 800.2,462.8 795.2,464.8C790.1,466.8 785.7,470.2 781.0,472.9C776.3,475.6 771.9,478.6 766.8,481.0C761.8,483.3 755.4,485.0 750.7,487.0C745.9,489.0 741.9,491.7 738.5,493.1C735.2,494.4 732.6,497.2 730.4,495.1C728.3,493.0 725.9,485.3 725.4,480.6Z" fill="url(#f6sal)" stroke="#c8a090" stroke-width="0.6"/>
<path d="M748.6,442.5C751.1,439.6 759.9,436.1 762.8,436.7C765.7,437.3 764.5,442.9 765.8,446.2C767.2,449.4 768.5,453.3 770.9,456.3C773.2,459.3 780.0,461.9 780.0,464.4C780.0,466.9 774.4,469.3 770.9,471.5C767.4,473.6 762.1,476.2 758.8,477.5C755.4,478.9 752.2,481.4 750.7,479.5C749.2,477.7 750.1,470.6 749.7,466.4C749.3,462.2 748.4,458.2 748.2,454.3C748.1,450.3 746.2,445.5 748.6,442.5Z" fill="url(#f6p49)" stroke="#c8a0a0" stroke-width="0.6"/>
<path d="M726.0,479.5C726.7,476.3 727.7,470.9 730.4,470.4C733.2,470.0 739.2,475.3 742.6,476.9C745.9,478.5 751.3,478.4 750.7,480.2C750.0,481.9 741.9,485.0 738.5,487.6C735.2,490.2 732.5,495.4 730.4,495.7C728.4,496.1 727.1,492.4 726.4,489.7C725.7,487.0 725.3,482.7 726.0,479.5Z" fill="#f8b8b8" stroke="#c8a0a0" stroke-width="0.6"/>
<path d="M874.5,471.4C874.8,468.0 881.2,466.6 884.9,465.3C888.7,464.0 893.7,463.4 897.1,463.5C900.6,463.7 903.5,464.5 905.5,466.1C907.5,467.7 910.2,469.9 909.3,473.1C908.5,476.3 905.0,483.3 900.6,485.3C896.3,487.3 887.6,487.6 883.2,485.3C878.8,483.0 874.2,474.7 874.5,471.4Z" fill="#e8a890" stroke="#c8a090" stroke-width="0.5"/>
<ellipse cx="776.6" cy="569.1" rx="15.0" ry="33.6" fill="#5f9c2f" stroke="#5a8a3a" stroke-width="0.5"/>
<path d="M745.6,534.1C746.6,532.4 752.9,530.4 758.8,529.5C764.7,528.6 773.4,528.8 781.0,528.7C788.6,528.6 801.1,527.1 804.3,528.7C807.5,530.3 802.4,535.6 800.2,538.2C798.0,540.8 796.0,543.4 791.1,544.3C786.2,545.1 777.3,543.9 770.9,543.2C764.5,542.6 756.9,541.7 752.7,540.2C748.5,538.7 744.6,535.9 745.6,534.1Z" fill="url(#g_lgrey)" stroke="#ababab" stroke-width="0.6" />
<path d="M695.06,550.93 L707.77,532.00 A6.50,6.50 0 0 1 718.60,532.05 L733.10,554.14 A6.50,6.50 0 0 0 743.97,554.13 L758.38,532.16 A6.50,6.50 0 0 1 769.25,532.16 L783.87,554.45 A6.10,6.10 0 0 0 794.15,554.35 L799.20,546.28" fill="none" stroke="#cb96d1" stroke-width="5.8" stroke-linejoin="round"/><path d="M702.13,526.66 L721.88,554.29 A6.50,6.50 0 0 0 732.61,554.08 L747.25,531.75 A6.50,6.50 0 0 1 758.12,531.76 L772.82,554.17 A6.50,6.50 0 0 0 783.50,554.45 L803.25,527.47" fill="none" stroke="#962f9a" stroke-width="5.8" stroke-linejoin="round"/><path d="M721.34,537.50 L734.74,554.12" stroke="#cb96d1" stroke-width="5.8" fill="none"/><path d="M771.90,537.50 L785.30,554.12" stroke="#cb96d1" stroke-width="5.8" fill="none"/>
<path d="M879.7,558.5C880.9,557.6 884.5,559.1 886.7,560.3C888.9,561.4 891.4,563.2 892.8,565.5C894.2,567.8 895.0,571.3 894.9,574.2C894.8,577.1 893.9,579.7 892.3,582.9C890.7,586.1 887.6,590.2 885.3,593.4C883.0,596.6 880.6,599.2 878.3,602.1C876.0,605.0 873.4,608.3 871.4,610.8C869.3,613.3 868.2,616.3 866.1,617.3C864.0,618.2 861.2,617.4 858.8,616.4C856.4,615.4 853.3,612.7 851.8,611.2C850.3,609.6 848.3,608.4 849.7,607.3C851.2,606.2 857.1,606.6 860.5,604.7C863.9,602.8 867.1,599.3 870.1,596.0C873.2,592.7 876.9,588.3 878.8,584.7C880.8,581.0 881.7,577.4 881.8,574.2C882.0,571.0 880.1,568.1 879.7,565.5C879.4,562.9 878.6,559.4 879.7,558.5Z" fill="url(#g_blue)" stroke="#7fa3c8" stroke-width="0.6" />
<radialGradient id="ug_orange_758_497" gradientUnits="userSpaceOnUse" cx="758" cy="497" r="55"><stop offset="0" stop-color="#fbe8c4"/><stop offset="0.5" stop-color="#f8d694"/><stop offset="1" stop-color="#f4c670"/></radialGradient><path d="M728.4,504.8C728.8,502.3 728.8,497.7 730.4,494.7C732.1,491.7 735.2,489.0 738.5,486.6C741.9,484.3 745.9,482.6 750.7,480.6C755.4,478.5 761.8,476.8 766.8,474.5C771.9,472.1 776.3,469.1 781.0,466.4C785.7,463.7 790.1,460.2 795.2,458.3C800.2,456.5 805.9,456.1 811.3,455.3C816.7,454.4 822.5,453.6 827.5,453.3C832.6,452.9 837.6,452.4 841.7,453.3C845.7,454.1 849.0,456.1 851.8,458.3C854.5,460.5 855.6,461.0 858.3,466.4C860.9,471.8 865.7,481.6 868.0,490.7C870.2,499.8 871.7,513.6 872.0,521.0C872.3,528.4 871.7,531.4 870.0,535.2C868.3,538.9 864.9,539.2 861.9,543.2C858.9,547.3 854.8,554.0 851.8,559.4C848.7,564.8 845.7,570.2 843.7,575.6C841.7,581.0 839.6,587.1 839.6,591.8C839.7,596.5 845.4,600.8 844.1,603.9C842.7,607.0 835.7,609.6 831.6,610.4C827.4,611.1 823.5,610.1 819.4,608.4C815.4,606.6 808.6,603.6 807.3,599.9C805.9,596.1 810.7,590.4 811.3,585.7C812.0,581.0 813.4,575.9 811.3,571.6C809.3,567.2 802.1,562.8 799.2,559.4C796.3,556.1 794.1,554.4 793.7,551.3C793.4,548.3 795.6,543.9 797.2,541.2C798.8,538.5 802.2,537.4 803.2,535.2C804.3,532.9 805.3,528.5 803.2,527.5C801.2,526.5 795.8,528.8 791.1,529.1C786.4,529.4 780.3,529.4 774.9,529.5C769.5,529.6 763.8,529.9 758.8,529.5C753.7,529.1 748.6,528.8 744.6,527.1C740.6,525.3 737.2,521.8 734.5,519.0C731.8,516.1 729.4,512.2 728.4,509.9C727.4,507.5 728.1,507.4 728.4,504.8Z" fill="url(#ug_orange_758_497)" stroke="#b8a680" stroke-width="0.6" opacity="0.87" />
<path d="M803.2,539.2C805.3,541.0 811.3,547.4 815.4,549.7C819.4,552.1 821.7,554.9 827.5,553.4C833.3,551.8 846.4,542.4 850.2,540.2" fill="none" stroke="#e08870" stroke-width="4.6" stroke-linecap="round" stroke-linejoin="round" opacity="0.5"/>
<path d="M741.6,575.6C741.6,572.7 741.4,568.2 743.6,565.5C745.8,562.8 750.2,560.9 754.7,559.4C759.3,557.9 765.5,556.4 770.9,556.4C776.3,556.4 782.3,558.6 787.1,559.4C791.8,560.3 794.5,560.1 799.2,561.4C803.9,562.8 811.0,565.2 815.4,567.5C819.8,569.9 823.4,572.6 825.5,575.6C827.6,578.6 828.9,583.0 827.9,585.7C826.9,588.4 823.2,590.4 819.4,591.8C815.6,593.2 810.0,594.1 805.3,594.2C800.5,594.3 795.5,591.8 791.1,592.2C786.7,592.5 783.0,596.2 779.0,596.2C774.9,596.2 771.6,593.5 766.8,592.2C762.1,590.8 754.5,589.7 750.7,588.1C746.8,586.6 745.1,584.8 743.6,582.7C742.1,580.6 741.6,578.5 741.6,575.6Z" fill="url(#g_lgrey)" stroke="#ababab" stroke-width="0.6" />
<g clip-path="url(#f6clip)"><path d="M695.06,550.93 L707.77,532.00 A6.50,6.50 0 0 1 718.60,532.05 L733.10,554.14 A6.50,6.50 0 0 0 743.97,554.13 L758.38,532.16 A6.50,6.50 0 0 1 769.25,532.16 L783.87,554.45 A6.10,6.10 0 0 0 794.15,554.35 L799.20,546.28" fill="none" stroke="#cb96d1" stroke-width="5.8" stroke-linejoin="round"/><path d="M702.13,526.66 L721.88,554.29 A6.50,6.50 0 0 0 732.61,554.08 L747.25,531.75 A6.50,6.50 0 0 1 758.12,531.76 L772.82,554.17 A6.50,6.50 0 0 0 783.50,554.45 L803.25,527.47" fill="none" stroke="#962f9a" stroke-width="5.8" stroke-linejoin="round"/><path d="M721.34,537.50 L734.74,554.12" stroke="#cb96d1" stroke-width="5.8" fill="none"/><path d="M771.90,537.50 L785.30,554.12" stroke="#cb96d1" stroke-width="5.8" fill="none"/></g>
<path d="M827.4,612.1C828.7,608.8 830.1,608.3 832.2,607.2C834.4,606.1 837.6,605.2 840.3,605.6C843.0,606.0 846.0,607.8 848.4,609.6C850.8,611.5 853.1,614.1 854.9,616.9C856.6,619.8 858.1,623.4 858.9,626.6C859.8,629.9 860.7,632.8 860.1,636.3C859.4,639.8 857.1,644.2 855.2,647.7C853.3,651.2 851.2,654.4 848.7,657.4C846.3,660.3 843.3,663.7 840.6,665.5C838.0,667.3 834.8,668.5 832.6,668.2C830.3,668.0 828.8,667.3 827.4,663.9C826.0,660.4 824.7,653.9 824.1,647.7C823.6,641.5 823.6,632.6 824.1,626.6C824.7,620.7 826.0,615.3 827.4,612.1Z" fill="url(#g_mag)" stroke="#b08fb0" stroke-width="0.6" />
<path d="M782.9,607.2C783.0,603.7 783.3,600.1 784.5,597.5C785.7,594.9 787.6,592.9 790.2,591.8C792.7,590.8 796.9,590.4 799.9,591.0C802.8,591.7 805.5,594.0 808.0,595.9C810.4,597.8 812.3,600.2 814.4,602.4C816.6,604.5 818.7,607.1 820.9,608.8C823.1,610.6 825.0,612.6 827.4,612.9C829.8,613.1 832.8,611.1 835.5,610.5C838.2,609.8 841.1,608.7 843.6,608.8C846.0,609.0 848.6,610.2 850.0,611.3C851.4,612.3 852.8,613.6 852.0,615.3C851.2,617.1 847.9,619.4 845.2,621.8C842.4,624.2 838.0,627.2 835.5,629.9C832.9,632.6 831.0,635.3 829.8,638.0C828.6,640.7 828.1,643.1 828.2,646.1C828.3,649.0 830.5,652.5 830.6,655.8C830.7,659.0 830.3,662.5 829.0,665.5C827.6,668.4 824.4,670.6 822.5,673.6C820.6,676.5 819.6,680.4 817.7,683.3C815.8,686.1 813.6,689.3 811.2,690.6C808.8,691.8 806.1,692.1 803.1,690.9C800.1,689.7 796.6,686.2 793.4,683.3C790.2,680.4 786.3,677.1 783.7,673.6C781.1,670.1 779.0,666.0 778.0,662.2C777.1,658.5 777.2,654.7 778.0,650.9C778.8,647.1 781.5,643.1 782.9,639.6C784.2,636.1 786.0,633.4 786.1,629.9C786.3,626.4 784.2,622.3 783.7,618.5C783.1,614.8 782.7,610.7 782.9,607.2Z" fill="url(#f6a43)" stroke="#a9a4c4" stroke-width="0.6"/>
<path d="M837.9,591.6C837.9,587.9 839.0,583.8 840.5,579.4C842.0,575.1 844.1,569.8 846.6,565.5C849.1,561.1 852.4,557.1 855.3,553.3C858.2,549.5 861.6,545.2 864.0,542.8C866.5,540.5 868.5,539.1 870.1,539.3C871.7,539.6 872.7,542.0 873.6,544.6C874.5,547.2 874.3,551.5 875.4,555.0C876.4,558.5 878.7,562.3 879.7,565.5C880.7,568.7 881.8,571.0 881.5,574.2C881.2,577.4 880.0,580.9 878.0,584.7C875.9,588.4 872.5,593.4 869.3,596.9C866.1,600.3 862.3,603.7 858.8,605.6C855.3,607.5 851.4,608.8 848.3,608.2C845.3,607.6 842.2,604.9 840.5,602.1C838.8,599.3 837.9,595.4 837.9,591.6Z" fill="url(#f6gc)" stroke="#a4a4a4" stroke-width="0.6"/>
<path d="M820.5,490.5C820.5,487.9 821.3,484.2 823.9,481.8C826.6,479.5 832.1,478.2 836.1,476.6C840.2,475.0 844.3,473.8 848.3,472.2C852.4,470.6 856.8,467.7 860.5,467.0C864.3,466.3 867.8,466.7 871.0,467.9C874.2,469.0 877.8,471.7 879.7,474.0C881.7,476.3 883.3,479.9 882.7,481.8C882.1,483.7 879.6,483.6 876.2,485.3C872.8,487.1 867.5,490.0 862.3,492.3C857.1,494.6 848.2,497.2 844.9,499.3C841.5,501.4 844.3,504.2 842.2,504.8C840.2,505.5 835.7,504.3 832.7,503.1C829.6,501.9 826.0,499.6 823.9,497.5C821.9,495.4 820.5,493.2 820.5,490.5Z" fill="url(#f6b5)" stroke="#8c9cc4" stroke-width="0.6"/>
<path d="M927.6,495.8C928.2,494.3 930.6,493.2 932.0,494.0C933.5,494.9 935.3,498.1 936.4,501.0C937.4,503.9 938.4,508.0 938.5,511.5C938.5,514.9 937.7,518.7 936.7,521.9C935.7,525.1 933.7,528.5 932.4,530.6C931.0,532.7 929.6,535.3 928.5,534.5C927.4,533.6 926.0,528.9 925.9,525.4C925.8,521.9 927.2,517.0 927.6,513.2C928.1,509.4 928.5,505.6 928.5,502.7C928.5,499.8 927.1,497.2 927.6,495.8Z" fill="url(#g_green)" stroke="#9bb592" stroke-width="0.6" />
<path d="M912.8,489.7C914.0,486.6 919.2,487.5 921.5,487.9C923.9,488.4 925.5,489.8 926.8,492.3C928.1,494.8 929.1,499.0 929.4,502.7C929.7,506.5 929.0,510.9 928.5,514.9C928.1,519.0 926.8,523.7 926.8,527.1C926.8,530.6 928.5,533.0 928.5,535.9C928.6,538.8 928.0,542.0 927.1,544.6C926.3,547.2 924.8,554.5 923.3,551.5C921.8,548.6 919.5,534.7 918.1,527.1C916.6,519.6 915.4,512.5 914.6,506.2C913.7,500.0 911.7,492.7 912.8,489.7Z" fill="url(#g_yellow)" stroke="#c4c39a" stroke-width="0.6" />
<path d="M870.1,535.0C871.1,533.5 876.4,536.4 879.7,537.6C883.1,538.8 886.7,540.4 890.2,542.0C893.7,543.6 897.3,545.2 900.6,547.2C904.0,549.2 907.7,552.0 910.2,554.2C912.7,556.3 915.3,558.5 915.4,560.3C915.6,562.1 913.0,563.7 911.1,565.0C909.2,566.2 906.7,567.7 904.1,567.6C901.5,567.4 898.3,565.5 895.4,564.1C892.5,562.6 889.6,560.2 886.7,558.9C883.8,557.6 880.1,558.3 878.0,556.3C875.9,554.2 875.4,549.9 874.1,546.3C872.8,542.8 869.2,536.4 870.1,535.0Z" fill="url(#g_yellow)" stroke="#c4c39a" stroke-width="0.6" />
<path d="M837.0,481.8C837.0,478.8 838.9,476.9 841.4,475.7C843.8,474.6 848.1,474.1 851.8,474.9C855.6,475.6 860.0,478.6 864.0,480.1C868.1,481.5 872.7,483.6 876.2,483.6C879.7,483.6 882.0,481.8 884.9,480.1C887.9,478.3 890.8,475.1 893.7,473.1C896.6,471.1 899.8,468.6 902.4,467.9C905.0,467.2 907.5,467.6 909.3,468.8C911.2,469.9 912.8,472.1 913.7,474.9C914.6,477.6 914.1,481.5 914.6,485.3C915.0,489.1 915.4,493.4 916.3,497.5C917.2,501.6 918.6,505.6 919.8,509.7C921.0,513.8 922.3,517.6 923.3,521.9C924.3,526.3 925.6,531.5 925.9,535.9C926.2,540.2 925.8,544.6 925.0,548.1C924.3,551.5 923.0,554.8 921.5,556.8C920.1,558.7 918.4,560.0 916.3,559.7C914.3,559.4 912.0,557.0 909.3,555.0C906.7,553.1 903.8,550.1 900.6,548.1C897.4,546.0 893.7,544.4 890.2,542.8C886.7,541.2 882.6,539.9 879.7,538.5C876.8,537.0 875.1,536.3 872.7,534.1C870.4,531.9 868.4,528.6 865.8,525.4C863.2,522.2 860.0,518.4 857.1,514.9C854.2,511.5 851.0,508.0 848.3,504.5C845.7,501.0 843.3,497.8 841.4,494.0C839.5,490.3 837.0,484.9 837.0,481.8Z" fill="url(#g_pink)" stroke="#c9a8a8" stroke-width="0.6" />
<path d="M803.2,527.5C803.4,524.7 804.3,520.1 806.3,517.0C808.3,513.9 811.5,510.7 815.4,508.9C819.3,507.0 824.8,505.8 829.5,505.8C834.3,505.8 839.3,507.4 843.7,508.9C848.1,510.4 852.1,512.6 855.8,514.9C859.5,517.3 863.3,520.3 865.9,523.0C868.5,525.7 871.1,528.7 871.4,531.1C871.7,533.5 870.6,536.0 868.0,537.6C865.4,539.2 860.5,539.8 855.8,540.6C851.1,541.5 845.0,542.5 839.6,542.6C834.3,542.8 828.2,542.5 823.5,541.6C818.7,540.8 814.4,538.9 811.3,537.6C808.3,536.2 806.6,535.2 805.3,533.5C803.9,531.9 803.1,530.2 803.2,527.5Z" fill="url(#g_green)" stroke="#9bb592" stroke-width="0.6" opacity="0.8" />
<path d="M826.6,540.6C828.4,539.5 833.7,536.1 837.9,534.5C842.1,532.8 847.8,531.1 851.8,530.6C855.9,530.1 859.2,530.6 862.3,531.5C865.4,532.4 869.1,535.4 870.5,536.2" fill="none" stroke="#a9bab4" stroke-width="5" stroke-linecap="butt" stroke-linejoin="round" stroke-dasharray="12,5" opacity="0.95"/>
<path d="M871.0,542.0C871.4,543.1 873.3,546.6 873.6,548.9C873.9,551.3 872.9,554.7 872.7,555.9" fill="none" stroke="#5a2bf5" stroke-width="6" stroke-linecap="butt" stroke-linejoin="round"/>
<path d="M869.3,561.5 L860.2,571.9" fill="none" stroke="#5a2bf5" stroke-width="6" stroke-linecap="butt" stroke-linejoin="round"/>
<path d="M855.7,576.8 L851.8,590.2" fill="none" stroke="#5a2bf5" stroke-width="6" stroke-linecap="butt" stroke-linejoin="round"/>
<text class="l" x="734" y="464.2" text-anchor="middle">A34</text>
<text class="l" x="761.3" y="465.2" text-anchor="middle">A49</text>
<text class="l" x="709.4" y="490" text-anchor="middle">A12</text>
<text class="l" x="873.5" y="462.2" text-anchor="middle">ABC5</text>
<text class="l" x="791.6" y="500" text-anchor="middle">A2</text>
<text class="l" x="884.1" y="511.2" text-anchor="middle">AC1</text>
<text class="l" x="943.9" y="522.8" text-anchor="middle">ABC3</text>
<text class="l" x="830.7" y="528.2" text-anchor="middle">ABC4</text>
<text class="l" x="893.2" y="556.2" text-anchor="middle">AC2</text>
<text class="l" x="779.5" y="579.2" text-anchor="middle">A1</text>
<text class="l" x="765.2" y="614.4" text-anchor="middle">ABC1</text>
<text class="l" x="891.4" y="613.2" text-anchor="middle">ABC2</text>
<text class="l" x="805.3" y="637.2" text-anchor="middle">A43</text>
<text class="l" x="843.8" y="641.7" text-anchor="middle">A14</text>
<path d="M173.5,1046.3C174.2,1043.2 175.0,1039.2 178.0,1037.2C181.1,1035.1 186.4,1034.1 191.7,1034.1C197.0,1034.1 205.7,1035.1 209.9,1037.2C214.0,1039.2 215.9,1042.7 216.5,1046.3C217.1,1049.8 215.6,1054.6 213.5,1058.4C211.4,1062.2 207.9,1066.4 203.8,1069.0C199.7,1071.6 192.9,1074.4 188.6,1074.2C184.3,1073.9 180.5,1070.6 178.0,1067.5C175.5,1064.4 174.2,1058.9 173.5,1055.4C172.7,1051.8 172.7,1049.3 173.5,1046.3Z" fill="#e9dfef" stroke="#d0c4d8" stroke-width="0.5"/>
<path d="M102.4,884.4C102.2,882.2 101.7,878.6 103.4,876.3C105.1,873.9 109.3,872.4 112.5,870.2C115.7,868.0 119.2,864.8 122.6,863.1C125.9,861.5 129.6,859.9 132.7,860.1C135.8,860.3 141.5,862.1 141.2,864.2C140.8,866.2 133.4,869.2 130.7,872.2C127.9,875.3 125.9,878.9 124.6,882.4C123.3,885.8 124.9,891.0 122.6,892.9C120.2,894.8 113.5,894.5 110.4,893.9C107.4,893.3 105.7,891.0 104.4,889.4C103.0,887.8 102.5,886.6 102.4,884.4Z" fill="url(#f7tan)" stroke="#c0b090" stroke-width="0.5"/>
<path d="M259.2,920.1C259.1,917.7 259.2,912.4 260.1,909.6C261.0,906.9 262.6,904.7 264.5,903.5C266.3,902.4 269.6,901.8 271.4,902.6C273.2,903.5 274.6,906.4 275.3,908.7C275.9,911.1 275.8,914.1 275.3,916.6C274.8,919.1 273.8,922.0 272.3,923.6C270.8,925.1 268.1,925.6 266.2,925.6C264.3,925.6 262.1,924.5 261.0,923.6C259.8,922.6 259.4,922.4 259.2,920.1Z" fill="url(#g_nblue)" stroke="#8c9cc4" stroke-width="0.6" />
<path d="M272.3,1001.1C272.2,999.6 274.8,994.9 276.3,993.2C277.8,991.6 280.8,990.5 281.5,991.1C282.2,991.8 281.3,995.2 280.5,997.1C279.7,998.9 278.0,1001.6 276.7,1002.3C275.3,1003.0 272.4,1002.6 272.3,1001.1Z" fill="url(#g_green)" stroke="#9bb592" stroke-width="0.6" />
<path d="M269.7,925.3C270.6,921.2 272.9,918.5 274.9,916.6C276.9,914.7 279.6,913.8 281.9,914.0C284.2,914.1 286.8,915.3 288.9,917.5C290.9,919.6 292.8,923.4 294.1,927.0C295.4,930.7 295.7,935.2 296.7,939.2C297.7,943.3 299.2,948.2 300.2,951.4C301.1,954.6 302.4,955.2 302.3,958.4C302.2,961.6 300.5,966.5 299.7,970.6C298.8,974.7 298.0,979.3 297.0,982.8C296.1,986.3 295.7,989.7 294.1,991.5C292.4,993.3 289.4,993.6 287.1,993.6C284.8,993.6 282.2,990.7 280.1,991.5C278.1,992.3 276.7,995.6 274.9,998.5C273.2,1001.4 271.4,1006.7 269.7,1008.9C267.9,1011.2 266.2,1011.8 264.5,1011.9C262.7,1011.9 260.5,1010.9 259.2,1009.3C258.0,1007.6 256.9,1004.6 257.1,1002.0C257.4,999.3 259.5,996.1 261.0,993.2C262.5,990.3 264.8,988.9 266.2,984.5C267.7,980.2 269.1,974.4 269.7,967.1C270.3,959.8 269.7,947.9 269.7,941.0C269.7,934.0 268.8,929.4 269.7,925.3Z" fill="url(#g_pink)" stroke="#c9a8a8" stroke-width="0.6" />
<path d="M243.6,991.5C245.9,989.2 256.3,987.4 259.2,988.0C262.2,988.6 261.4,992.4 261.3,995.0C261.2,997.6 260.2,1001.3 258.7,1003.7C257.2,1006.1 254.4,1008.2 252.3,1009.3C250.1,1010.3 246.8,1011.4 245.6,1010.1C244.5,1008.9 245.6,1005.1 245.3,1002.0C244.9,998.8 241.2,993.8 243.6,991.5Z" fill="url(#g_yellow)" stroke="#c4c39a" stroke-width="0.6" />
<path d="M98.3,903.0C98.8,899.1 100.0,897.1 102.4,895.5C104.7,893.9 109.1,893.8 112.5,893.5C115.8,893.1 119.5,890.6 122.6,893.5C125.6,896.3 125.3,906.5 130.7,910.7C136.1,914.9 146.2,916.4 154.9,918.8C163.7,921.1 173.8,923.0 183.2,924.8C192.7,926.7 204.5,927.5 211.6,929.9C218.6,932.2 223.4,934.8 225.7,939.0C228.1,943.2 228.1,951.1 225.7,955.2C223.4,959.2 218.6,961.9 211.6,963.2C204.5,964.6 192.7,963.2 183.2,963.2C173.8,963.2 163.7,963.9 154.9,963.2C146.2,962.6 137.4,961.2 130.7,959.2C123.9,957.2 119.2,954.8 114.5,951.1C109.8,947.4 104.9,942.3 102.4,937.0C99.8,931.6 100.0,924.4 99.3,918.8C98.6,913.1 97.8,906.9 98.3,903.0Z" fill="url(#f7gb)" stroke="#aaa" stroke-width="0.5"/>
<path d="M98.9,930.9C98.9,927.4 99.1,921.5 100.3,919.8C101.6,918.1 103.7,918.9 106.4,920.8C109.1,922.6 113.5,927.5 116.5,930.9C119.5,934.3 122.4,937.8 124.6,941.0C126.8,944.2 130.7,948.1 129.7,950.1C128.6,952.1 122.4,952.9 118.5,952.7C114.7,952.6 109.4,951.0 106.4,949.1C103.4,947.1 101.6,944.0 100.3,941.0C99.1,938.0 98.9,934.4 98.9,930.9Z" fill="#a9b2f0" opacity="0.9"/>
<path d="M100.3,979.4C100.0,975.0 99.7,967.6 101.3,963.2C103.0,958.9 106.2,955.2 110.4,953.1C114.7,951.1 121.6,951.1 126.6,951.1C131.7,951.1 135.9,951.1 140.8,953.1C145.7,955.2 153.6,960.2 155.9,963.2C158.3,966.3 155.8,966.6 154.9,971.3C154.1,976.1 151.6,984.8 150.9,991.6C150.2,998.3 151.7,1007.7 150.9,1011.8C150.0,1015.9 147.7,1016.6 145.8,1016.2C144.0,1015.9 142.3,1012.5 139.8,1009.8C137.2,1007.0 133.9,1002.0 130.7,999.6C127.5,997.3 123.9,996.2 120.6,995.6C117.2,995.0 113.3,997.0 110.4,996.0C107.6,995.0 105.1,992.3 103.4,989.5C101.7,986.8 100.7,983.8 100.3,979.4Z" fill="url(#f7gr)" stroke="#7a9a6a" stroke-width="0.5"/>
<path d="M108.4,934.9C110.4,934.3 116.5,932.1 120.6,930.9C124.6,929.7 129.3,928.0 132.7,927.9C136.1,927.8 137.5,928.6 141.2,930.3C144.9,932.0 149.9,936.8 154.9,938.0C159.9,939.1 166.4,936.8 171.1,937.4C175.8,937.9 179.2,939.1 183.2,941.4C187.3,943.7 191.9,949.1 195.4,951.1C198.8,953.1 202.5,953.1 203.9,953.5" fill="none" stroke="#a894f0" stroke-width="4.6" stroke-linecap="butt" stroke-linejoin="round" stroke-dasharray="13,5" opacity="0.85"/>
<path d="M78.1,957.6C80.1,954.8 87.2,944.8 90.2,941.0C93.3,937.2 94.2,935.7 96.3,934.9C98.4,934.1 100.4,933.8 102.8,936.1C105.1,938.5 107.8,945.1 110.4,949.1C113.1,953.1 116.1,958.4 118.5,960.2C121.0,962.1 122.6,961.7 125.0,960.2C127.4,958.7 129.7,953.9 132.7,951.1C135.7,948.3 139.4,945.0 142.8,943.4C146.2,941.8 151.6,941.7 153.3,941.4" fill="none" stroke="#cb96d1" stroke-width="4.8" stroke-linecap="butt" stroke-linejoin="round"/>
<path d="M88.2,934.5C89.5,936.3 93.3,940.9 96.3,945.0C99.3,949.2 103.6,956.5 106.4,959.2C109.2,961.9 110.5,962.9 112.9,961.2C115.2,959.5 117.9,953.1 120.6,949.1C123.2,945.1 125.9,939.7 128.6,937.4C131.3,935.0 134.0,933.7 136.7,934.9C139.4,936.2 142.1,941.3 144.8,945.0C147.5,948.8 150.5,954.7 152.9,957.2C155.3,959.7 157.0,960.8 159.4,960.2C161.7,959.6 164.4,954.9 167.1,953.5C169.7,952.2 172.1,951.7 175.2,952.3C178.2,952.9 181.6,955.5 185.3,957.2C189.0,958.8 193.4,961.7 197.4,962.2C201.4,962.7 205.8,961.7 209.5,960.2C213.2,958.7 217.4,956.0 219.6,953.1C221.9,950.3 223.4,946.1 223.1,943.0C222.8,940.0 220.2,936.6 218.0,934.9C215.8,933.2 212.2,932.4 209.9,932.9C207.7,933.4 205.6,935.7 204.7,938.0C203.8,940.3 204.5,945.2 204.5,946.7" fill="none" stroke="#962f9a" stroke-width="5.0" stroke-linecap="butt" stroke-linejoin="round"/>
<path d="M195.8,940.0C196.7,938.9 198.8,934.5 201.4,933.3C204.1,932.1 208.5,932.0 211.6,932.9C214.6,933.9 218.4,936.6 219.6,939.0C220.9,941.3 220.4,945.0 219.0,947.1C217.7,949.2 214.2,951.1 211.6,951.5C209.0,951.9 204.8,949.8 203.5,949.5" fill="none" stroke="#8f74f0" stroke-width="4.6" stroke-linecap="butt" stroke-linejoin="round" stroke-dasharray="12,5" opacity="0.85"/>
<radialGradient id="ug_orange_183_878" gradientUnits="userSpaceOnUse" cx="183" cy="878" r="75"><stop offset="0" stop-color="#fbe8c4"/><stop offset="0.5" stop-color="#f8d694"/><stop offset="1" stop-color="#f4c670"/></radialGradient><path d="M120.6,886.4C120.7,883.0 120.2,879.3 122.6,876.3C124.9,873.3 130.0,870.4 134.7,868.2C139.4,866.0 145.5,864.5 150.9,863.1C156.3,861.8 161.7,860.8 167.1,860.1C172.5,859.4 177.9,859.1 183.2,859.1C188.6,859.1 194.0,859.3 199.4,860.1C204.8,861.0 210.2,862.5 215.6,864.2C221.0,865.8 227.4,867.5 231.8,870.2C236.2,872.9 239.9,876.6 241.9,880.3C243.9,884.0 242.9,889.1 243.9,892.5C244.9,895.8 245.3,898.7 248.0,900.6C250.7,902.4 258.8,903.4 260.1,903.6C261.4,903.8 255.6,901.8 255.7,901.8C255.9,901.8 260.2,901.9 261.0,903.5C261.7,905.1 260.5,908.0 260.1,911.4C259.7,914.7 257.1,917.2 258.7,923.6C260.3,929.9 267.9,940.4 269.7,949.7C271.5,959.0 270.3,973.5 269.7,979.3C269.1,985.1 267.9,982.8 266.2,984.5C264.5,986.3 261.8,988.2 259.2,989.8C256.6,991.3 252.6,994.0 250.5,993.6C248.5,993.2 249.1,987.5 247.0,987.1C245.0,986.8 241.8,990.5 238.3,991.5C234.8,992.5 229.6,993.8 226.1,993.2C222.6,992.7 220.0,990.3 217.4,988.0C214.8,985.7 211.4,981.7 210.5,979.3C209.5,976.9 212.2,975.9 211.6,973.4C210.9,970.8 206.8,966.6 206.5,964.3C206.2,961.9 206.7,960.4 209.5,959.2C212.4,958.0 220.9,959.5 223.7,957.2C226.5,954.8 226.7,948.8 226.1,945.0C225.5,941.3 222.7,937.4 220.1,934.9C217.4,932.5 213.4,930.8 209.9,930.5C206.5,930.1 202.5,932.2 199.4,932.9C196.3,933.7 194.0,935.8 191.3,934.9C188.6,934.1 186.6,930.4 183.2,927.9C179.9,925.3 175.8,920.8 171.1,919.8C166.4,918.8 160.7,922.1 154.9,921.8C149.2,921.5 141.8,920.1 136.7,917.7C131.7,915.4 127.1,911.2 124.6,907.6C122.1,904.1 122.2,900.1 121.6,896.5C120.9,893.0 120.4,889.8 120.6,886.4Z" fill="url(#ug_orange_183_878)" stroke="#b8a680" stroke-width="0.6" opacity="0.87" />
<path d="M162.0,1017.8C159.0,1019.9 163.5,1025.3 165.0,1028.0C166.6,1030.7 168.1,1032.8 171.1,1034.0C174.1,1035.3 179.2,1036.0 183.2,1035.4C187.3,1034.8 192.0,1032.6 195.4,1030.4C198.7,1028.1 205.5,1024.3 203.5,1021.9C201.4,1019.5 190.2,1016.5 183.2,1015.8C176.3,1015.1 165.0,1015.8 162.0,1017.8Z" fill="url(#g_orange)" stroke="#b8a680" stroke-width="0.6" />
<path d="M191.3,1030.4C192.0,1028.8 198.1,1027.0 203.5,1025.9C208.9,1024.9 218.7,1024.7 223.7,1023.9C228.6,1023.2 231.8,1020.7 233.2,1021.5C234.6,1022.2 233.8,1026.2 232.2,1028.4C230.6,1030.5 227.1,1032.9 223.7,1034.4C220.3,1035.9 215.6,1037.3 211.6,1037.5C207.5,1037.6 202.8,1036.6 199.4,1035.4C196.1,1034.3 190.7,1032.0 191.3,1030.4Z" fill="url(#g_blue)" stroke="#7fa3c8" stroke-width="0.6" />
<path d="M107.4,996.0C109.4,994.2 119.9,993.0 122.6,989.5C125.3,986.1 122.2,979.1 123.6,975.4C124.9,971.7 126.8,968.8 130.7,967.3C134.5,965.8 141.8,966.8 146.8,966.3C151.9,965.8 155.9,965.3 161.0,964.3C166.1,963.2 172.1,961.1 177.2,960.2C182.2,959.4 186.6,958.7 191.3,959.2C196.1,959.7 202.1,960.9 205.5,963.2C208.9,965.6 209.9,969.6 211.6,973.4C213.2,977.1 212.9,982.5 215.6,985.5C218.3,988.5 223.4,990.9 227.7,991.6C232.1,992.2 238.3,988.8 241.9,989.5C245.5,990.3 248.3,993.0 249.4,996.0C250.5,999.0 249.9,1004.1 248.4,1007.7C246.8,1011.4 244.0,1015.1 239.9,1017.8C235.8,1020.6 229.8,1022.9 223.7,1024.3C217.6,1025.7 210.2,1026.3 203.5,1026.3C196.7,1026.3 189.6,1025.3 183.2,1024.3C176.8,1023.3 170.4,1022.0 165.0,1020.3C159.7,1018.6 155.6,1016.6 150.9,1014.2C146.2,1011.8 141.8,1008.1 136.7,1006.1C131.7,1004.1 124.9,1003.0 120.6,1002.1C116.2,1001.2 112.6,1001.7 110.4,1000.7C108.3,999.6 105.4,997.9 107.4,996.0Z" fill="url(#f7d1)" stroke="#a8a8a8" stroke-width="0.6" opacity="0.95"/>
<path d="M241.8,946.2C242.0,943.6 241.8,940.1 243.6,937.5C245.3,934.9 249.7,932.8 252.3,930.5C254.9,928.2 256.9,924.7 259.2,923.6C261.6,922.4 264.2,922.4 266.2,923.6C268.2,924.7 269.7,928.2 271.4,930.5C273.2,932.8 275.1,934.3 276.7,937.5C278.3,940.7 280.1,944.8 281.0,949.7C281.9,954.6 282.6,962.6 282.2,967.1C281.9,971.6 280.5,974.6 278.7,976.7C276.9,978.8 273.1,980.7 271.4,979.7C269.8,978.6 269.5,973.6 268.8,970.6C268.1,967.6 268.1,963.4 267.1,961.9C266.1,960.4 264.0,960.7 262.7,961.5C261.4,962.4 261.0,966.3 259.2,967.1C257.5,968.0 254.4,967.7 252.3,966.6C250.1,965.4 247.8,962.4 246.2,960.1C244.6,957.9 243.4,955.5 242.7,953.2C242.0,950.8 241.7,948.8 241.8,946.2Z" fill="url(#g_green)" stroke="#9bb592" stroke-width="0.6" />
<path d="M196.4,943.4C197.2,945.1 198.9,950.8 201.4,953.5C204.0,956.2 209.9,958.6 211.6,959.6" fill="none" stroke="#5a2bf5" stroke-width="5.8" stroke-linecap="butt" stroke-linejoin="round"/>
<path d="M221.3,960.4 L236.2,960.2" fill="none" stroke="#5a2bf5" stroke-width="5.8" stroke-linecap="butt" stroke-linejoin="round"/>
<path d="M88.2,919.8 L101.7,928.5" stroke="#000" stroke-width="0.7" fill="none"/>
<text class="l" x="109.8" y="870.9" text-anchor="middle">D9</text>
<text class="l" x="185.6" y="900.9" text-anchor="middle">D2</text>
<text class="l" x="271.1" y="899.7" text-anchor="middle">D10</text>
<text class="l" x="71.8" y="923.1" text-anchor="middle">RDR2</text>
<text class="l" x="283.3" y="933.1" text-anchor="middle">D3</text>
<text class="l" x="262.9" y="951.9" text-anchor="middle">D12</text>
<text class="l" x="113.7" y="984.6" text-anchor="middle">D5</text>
<text class="l" x="177.4" y="992.8" text-anchor="middle">D1</text>
<text class="l" x="287.8" y="1010.4" text-anchor="middle">D8</text>
<text class="l" x="254.4" y="1024.7" text-anchor="middle">D11</text>
<text class="l" x="240.2" y="1042" text-anchor="middle">D6</text>
<text class="l" x="191.7" y="1051.1" text-anchor="middle" style="fill:#888">D7</text>
<text class="l" x="191.7" y="1070.8" text-anchor="middle" style="fill:#888">D4</text>

<rect x="89.5" y="355.5" width="46" height="17" fill="#bfffbf" stroke="#000" stroke-width="1"/>
<text class="bs" x="111.0" y="367.3" text-anchor="middle">β</text>
<rect x="89.5" y="372.5" width="46" height="17" fill="#bfffbf" stroke="#000" stroke-width="1"/>
<text class="bs" x="111.0" y="384.3" text-anchor="middle">β'</text>
<rect x="135.5" y="365.5" width="46" height="17" fill="#bfffbf" stroke="#000" stroke-width="1"/>
<text class="bs" x="157.0" y="377.3" text-anchor="middle">α</text>
<rect x="181.5" y="365.5" width="46" height="17" fill="#bfffbf" stroke="#000" stroke-width="1"/>
<text class="bs" x="203.0" y="377.3" text-anchor="middle">ω</text>
<rect x="227.5" y="365.5" width="46" height="17" fill="#bfffbf" stroke="#000" stroke-width="1"/>
<text class="bs" x="249.0" y="377.3" text-anchor="middle">δ</text>
<rect x="364.5" y="355.5" width="46" height="17" fill="#fff" stroke="#000" stroke-width="1"/>
<text class="bt" x="385.5" y="368.5" text-anchor="middle">B</text>
<rect x="364.5" y="372.5" width="46" height="17" fill="#fff" stroke="#000" stroke-width="1"/>
<text class="bt" x="385.5" y="385.5" text-anchor="middle">A</text>
<rect x="410.5" y="355.5" width="46" height="17" fill="#fff" stroke="#000" stroke-width="1"/>
<text class="bt" x="431.5" y="368.5" text-anchor="middle">D</text>
<rect x="410.5" y="372.5" width="46" height="17" fill="#fff" stroke="#000" stroke-width="1"/>
<text class="bt" x="431.5" y="385.5" text-anchor="middle">L</text>
<rect x="466.5" y="355.5" width="46" height="17" fill="#fff" stroke="#000" stroke-width="1"/>
<text class="bt" x="487.5" y="368.5" text-anchor="middle">E</text>
<rect x="466.5" y="372.5" width="46" height="17" fill="#fff" stroke="#000" stroke-width="1"/>
<text class="bt" x="487.5" y="385.5" text-anchor="middle">K</text>
<rect x="512.5" y="355.5" width="46" height="17" fill="#fff" stroke="#000" stroke-width="1"/>
<text class="bt" x="533.5" y="368.5" text-anchor="middle">F</text>
<rect x="512.5" y="372.5" width="46" height="17" fill="#fff" stroke="#000" stroke-width="1"/>
<text class="bt" x="533.5" y="385.5" text-anchor="middle">N</text>
<rect x="558.5" y="355.5" width="46" height="17" fill="#fff" stroke="#000" stroke-width="1"/>
<text class="bt" x="579.5" y="368.5" text-anchor="middle">G</text>
<rect x="558.5" y="372.5" width="46" height="17" fill="#fff" stroke="#000" stroke-width="1"/>
<text class="bt" x="579.5" y="385.5" text-anchor="middle">P</text>
<rect x="604.5" y="355.5" width="46" height="17" fill="#fff" stroke="#000" stroke-width="1"/>
<text class="bt" x="625.5" y="368.5" text-anchor="middle">H</text>
<rect x="604.5" y="372.5" width="46" height="17" fill="#fff" stroke="#000" stroke-width="1"/>
<text class="bt" x="627.8" y="385.5" text-anchor="middle">13</text>
<rect x="726.5" y="355.5" width="46" height="17" fill="#fff" stroke="#000" stroke-width="1"/>
<text class="bt" x="750.0" y="367.5" text-anchor="middle">rpo132</text>
<rect x="726.5" y="372.5" width="46" height="17" fill="#fff" stroke="#000" stroke-width="1"/>
<text class="bt" x="750.0" y="384.5" text-anchor="middle">rpo147</text>
<rect x="772.5" y="355.5" width="46" height="17" fill="#fff" stroke="#000" stroke-width="1"/>
<text class="bt" x="796.0" y="367.5" text-anchor="middle">rpo7</text>
<rect x="772.5" y="372.5" width="46" height="17" fill="#fff" stroke="#000" stroke-width="1"/>
<text class="bt" x="796.0" y="384.5" text-anchor="middle">rpo35</text>
<rect x="828.5" y="355.5" width="46" height="17" fill="#fff" stroke="#000" stroke-width="1"/>
<text class="bt" x="853.0" y="367.5" text-anchor="middle">rpo30</text>
<rect x="828.5" y="372.5" width="46" height="17" fill="#fff" stroke="#000" stroke-width="1"/>
<text class="bt" x="853.0" y="384.5" text-anchor="middle">rpo19</text>
<rect x="874.5" y="355.5" width="46" height="17" fill="#fff" stroke="#000" stroke-width="1"/>
<text class="bt" x="899.0" y="367.5" text-anchor="middle">rpo22</text>
<rect x="874.5" y="372.5" width="46" height="17" fill="#fff" stroke="#000" stroke-width="1"/>
<text class="bt" x="899.0" y="384.5" text-anchor="middle">rpo18</text>
<rect x="67.5" y="778.5" width="46" height="17" fill="#fff" stroke="#000" stroke-width="1"/>
<text class="bt" x="90.8" y="791.5" text-anchor="middle">B2</text>
<rect x="67.5" y="795.5" width="46" height="17" fill="#fff" stroke="#000" stroke-width="1"/>
<text class="bt" x="90.8" y="808.5" text-anchor="middle">B1</text>
<rect x="113.5" y="778.5" width="46" height="17" fill="#fff" stroke="#000" stroke-width="1"/>
<text class="bt" x="136.8" y="791.5" text-anchor="middle">B3</text>
<rect x="113.5" y="795.5" width="46" height="17" fill="#fff" stroke="#000" stroke-width="1"/>
<text class="bt" x="137.0" y="808.5" text-anchor="middle">B11</text>
<rect x="170.5" y="778.5" width="46" height="17" fill="#fff" stroke="#000" stroke-width="1"/>
<text class="bt" x="193.8" y="791.5" text-anchor="middle">B4</text>
<rect x="216.5" y="778.5" width="46" height="17" fill="#fff" stroke="#000" stroke-width="1"/>
<text class="bt" x="239.8" y="791.5" text-anchor="middle">B7</text>
<rect x="262.5" y="778.5" width="46" height="17" fill="#fff" stroke="#000" stroke-width="1"/>
<text class="bt" x="285.8" y="791.5" text-anchor="middle">B9</text>
<rect x="262.5" y="799.5" width="46" height="17" fill="#fff" stroke="#000" stroke-width="1"/>
<text class="bt" x="283.5" y="812.5" text-anchor="middle">M</text>
<rect x="364.5" y="777.5" width="46" height="17" fill="#fff" stroke="#000" stroke-width="1"/>
<text class="bt" x="387.8" y="790.5" text-anchor="middle">C2</text>
<rect x="364.5" y="794.5" width="46" height="17" fill="#fff" stroke="#000" stroke-width="1"/>
<text class="bt" x="387.8" y="807.5" text-anchor="middle">C1</text>
<rect x="410.5" y="777.5" width="46" height="17" fill="#fff" stroke="#000" stroke-width="1"/>
<text class="bt" x="434.0" y="790.5" text-anchor="middle">AC2</text>
<rect x="410.5" y="794.5" width="46" height="17" fill="#fff" stroke="#000" stroke-width="1"/>
<text class="bt" x="434.0" y="807.5" text-anchor="middle">AC1</text>
<rect x="466.5" y="777.5" width="46" height="17" fill="#fff" stroke="#000" stroke-width="1"/>
<text class="bt" x="489.8" y="790.5" text-anchor="middle">C3</text>
<rect x="466.5" y="794.5" width="46" height="17" fill="#fff" stroke="#000" stroke-width="1"/>
<text class="bt" x="489.8" y="807.5" text-anchor="middle">C7</text>
<rect x="512.5" y="777.5" width="46" height="17" fill="#fff" stroke="#000" stroke-width="1"/>
<text class="bt" x="535.8" y="790.5" text-anchor="middle">C4</text>
<rect x="512.5" y="794.5" width="46" height="17" fill="#fff" stroke="#000" stroke-width="1"/>
<text class="bt" x="535.8" y="807.5" text-anchor="middle">C8</text>
<rect x="558.5" y="777.5" width="46" height="17" fill="#fff" stroke="#000" stroke-width="1"/>
<text class="bt" x="581.8" y="790.5" text-anchor="middle">C5</text>
<rect x="558.5" y="794.5" width="46" height="17" fill="#fff" stroke="#000" stroke-width="1"/>
<text class="bt" x="581.8" y="807.5" text-anchor="middle">C9</text>
<rect x="604.5" y="777.5" width="46" height="17" fill="#fff" stroke="#000" stroke-width="1"/>
<text class="bt" x="627.8" y="790.5" text-anchor="middle">C6</text>
<rect x="604.5" y="794.5" width="46" height="17" fill="#fff" stroke="#000" stroke-width="1"/>
<text class="bt" x="628.0" y="807.5" text-anchor="middle">C11</text>
<rect x="718.5" y="778.5" width="46" height="17" fill="#fff" stroke="#000" stroke-width="1"/>
<text class="bt" x="741.0" y="791.5" text-anchor="middle">A2</text>
<rect x="718.5" y="795.5" width="46" height="17" fill="#fff" stroke="#000" stroke-width="1"/>
<text class="bt" x="741.0" y="808.5" text-anchor="middle">A1</text>
<rect x="764.5" y="778.5" width="46" height="17" fill="#fff" stroke="#000" stroke-width="1"/>
<text class="bt" x="787.2" y="791.5" text-anchor="middle">AC2</text>
<rect x="764.5" y="795.5" width="46" height="17" fill="#fff" stroke="#000" stroke-width="1"/>
<text class="bt" x="787.2" y="808.5" text-anchor="middle">AC1</text>
<rect x="820.5" y="778.5" width="46" height="17" fill="#fff" stroke="#000" stroke-width="1"/>
<text class="bt" x="842.0" y="791.5" text-anchor="middle">A12</text>
<rect x="866.5" y="778.5" width="46" height="17" fill="#fff" stroke="#000" stroke-width="1"/>
<text class="bt" x="888.0" y="791.5" text-anchor="middle">A14</text>
<rect x="912.5" y="778.5" width="46" height="17" fill="#fff" stroke="#000" stroke-width="1"/>
<text class="bt" x="934.0" y="791.5" text-anchor="middle">A34</text>
<rect x="843.5" y="795.5" width="46" height="17" fill="#fff" stroke="#000" stroke-width="1"/>
<text class="bt" x="867.0" y="808.5" text-anchor="middle">A43</text>
<rect x="889.5" y="795.5" width="46" height="17" fill="#fff" stroke="#000" stroke-width="1"/>
<text class="bt" x="913.0" y="808.5" text-anchor="middle">A49</text>
<rect x="374.5" y="891.5" width="46" height="17" fill="#fff" stroke="#000" stroke-width="1"/>
<text class="bt" x="398.0" y="904.5" text-anchor="middle">ABC1</text>
<text class="t" x="397.5" y="923" text-anchor="middle" >D5/E5</text>
<rect x="420.5" y="891.5" width="46" height="17" fill="#fff" stroke="#000" stroke-width="1"/>
<text class="bt" x="444.0" y="904.5" text-anchor="middle">ABC2</text>
<text class="t" x="443.5" y="923" text-anchor="middle" >D6/E6</text>
<rect x="466.5" y="891.5" width="46" height="17" fill="#fff" stroke="#000" stroke-width="1"/>
<text class="bt" x="490.0" y="904.5" text-anchor="middle">ABC3</text>
<text class="t" x="489.5" y="923" text-anchor="middle" >D8/E8</text>
<rect x="512.5" y="891.5" width="46" height="17" fill="#fff" stroke="#000" stroke-width="1"/>
<text class="bt" x="536.0" y="904.5" text-anchor="middle">ABC4</text>
<text class="t" x="535.5" y="923" text-anchor="middle" >D12/E12</text>
<rect x="558.5" y="891.5" width="46" height="17" fill="#fff" stroke="#000" stroke-width="1"/>
<text class="bt" x="582.0" y="904.5" text-anchor="middle">ABC5</text>
<text class="t" x="581.5" y="923" text-anchor="middle" >D10/E10</text>
<rect x="374.5" y="991.5" width="46" height="17" fill="#fff" stroke="#000" stroke-width="1"/>
<text class="bt" x="397.8" y="1004.5" text-anchor="middle">D1</text>
<rect x="374.5" y="1008.5" width="46" height="17" fill="#fff" stroke="#000" stroke-width="1"/>
<text class="bt" x="397.8" y="1021.5" text-anchor="middle">E1</text>
<rect x="420.5" y="1001.5" width="46" height="17" fill="#fff" stroke="#000" stroke-width="1"/>
<text class="bt" x="444.0" y="1014.5" text-anchor="middle">D2/E2</text>
<rect x="466.5" y="1001.5" width="46" height="17" fill="#fff" stroke="#000" stroke-width="1"/>
<text class="bt" x="490.0" y="1014.5" text-anchor="middle">D7/E7</text>
<rect x="41" y="46" width="146" height="27" fill="#fff" stroke="#000" stroke-width="2"/>
<text class="title" x="48.5" y="65" text-anchor="start" >RNA&#160;&#160;POLYMERASE</text>
<text class="t" x="84" y="318" text-anchor="start" >RNA polymerase (Thermus aquaticus)</text>
<text class="t" x="398" y="318" text-anchor="start" >RNA polymerase (Saccharolobus solfataricus)</text>
<text class="t" x="735" y="317" text-anchor="start" >RNA polymerase (Vaccinia virus)</text>
<text class="t" x="81" y="349" text-anchor="start" >Bacterial</text>
<text class="t" x="355" y="349" text-anchor="start" >Archaeal</text>
<text class="t" x="717" y="350" text-anchor="start" >Viral</text>
<text class="t" x="104" y="719" text-anchor="start" >RNA polymerase II (Homo sapiens)</text>
<text class="t" x="414" y="718" text-anchor="start" >RNA polymerase III (Homo sapiens)</text>
<text class="t" x="707" y="719" text-anchor="start" >RNA polymerase I (Saccharomyces cerevisiae)</text>
<text class="t" x="61" y="755" text-anchor="start" >Eukaryotic Pol II</text>
<text class="t" x="68" y="772" text-anchor="start" >Core subunits</text>
<text class="t" x="170" y="773" text-anchor="start" >Pol II specific subunits</text>
<text class="t" x="358" y="752" text-anchor="start" >Eukaryotic Pol III</text>
<text class="t" x="364" y="771" text-anchor="start" >Core subunits</text>
<text class="t" x="466" y="771" text-anchor="start" >Pol III specific subunits</text>
<text class="t" x="711" y="753" text-anchor="start" >Eukaryotic Pol I</text>
<text class="t" x="718" y="772" text-anchor="start" >Core subunits</text>
<text class="t" x="821" y="772" text-anchor="start" >Pol I specific subunits</text>
<text class="t" x="368" y="884" text-anchor="start" >Pol I, II, and III common subunits</text>
<text class="t" x="368" y="985" text-anchor="start" >Pol IV, V specific subunit</text>
<text class="t" x="94" y="1103" text-anchor="start" >RNA polymerase IV (Arabidopsis thaliana)</text>
<text class="t" x="16" y="1131" text-anchor="start" >03020 3/6/23</text>
<text class="t" x="16" y="1142" text-anchor="start" >(c) Kanehisa Laboratories</text>
<rect x="0.5" y="0.5" width="988" height="1147" fill="none" stroke="#000" stroke-width="1"/>
</svg>
</body></html>
